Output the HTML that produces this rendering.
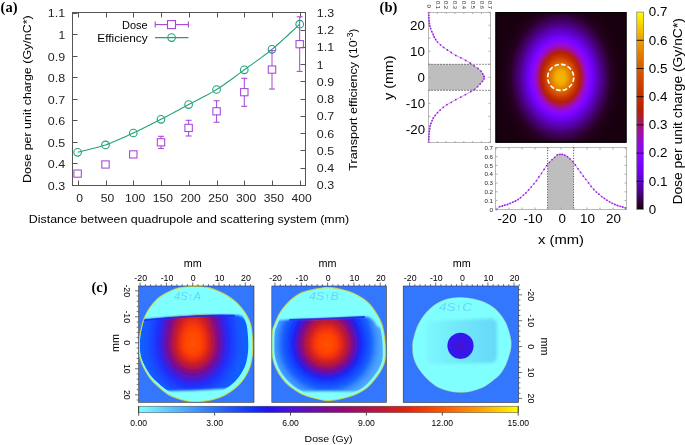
<!DOCTYPE html>
<html><head><meta charset="utf-8"><style>
html,body{margin:0;padding:0;background:#fff;width:685px;height:445px;overflow:hidden}
svg{display:block;will-change:transform}
</style></head><body>
<svg width="685" height="445" viewBox="0 0 685 445">
<text x="0.60" y="12.20" font-size="14.5" font-family="Liberation Serif" fill="#000" font-weight="bold" >(a)</text>
<rect x="72.5" y="12.5" width="233.0" height="173.0" fill="none" stroke="#555" stroke-width="1"/>
<line x1="78.50" y1="185.50" x2="78.50" y2="180.50" stroke="#555" stroke-width="1" />
<line x1="78.50" y1="12.50" x2="78.50" y2="17.50" stroke="#555" stroke-width="1" />
<text x="79.70" y="202.30" font-size="11" font-family="Liberation Sans" fill="#222" text-anchor="middle" textLength="6.74" lengthAdjust="spacingAndGlyphs" >0</text>
<line x1="106.50" y1="185.50" x2="106.50" y2="180.50" stroke="#555" stroke-width="1" />
<line x1="106.50" y1="12.50" x2="106.50" y2="17.50" stroke="#555" stroke-width="1" />
<text x="107.45" y="202.30" font-size="11" font-family="Liberation Sans" fill="#222" text-anchor="middle" textLength="13.48" lengthAdjust="spacingAndGlyphs" >50</text>
<line x1="133.50" y1="185.50" x2="133.50" y2="180.50" stroke="#555" stroke-width="1" />
<line x1="133.50" y1="12.50" x2="133.50" y2="17.50" stroke="#555" stroke-width="1" />
<text x="135.20" y="202.30" font-size="11" font-family="Liberation Sans" fill="#222" text-anchor="middle" textLength="20.22" lengthAdjust="spacingAndGlyphs" >100</text>
<line x1="161.50" y1="185.50" x2="161.50" y2="180.50" stroke="#555" stroke-width="1" />
<line x1="161.50" y1="12.50" x2="161.50" y2="17.50" stroke="#555" stroke-width="1" />
<text x="162.95" y="202.30" font-size="11" font-family="Liberation Sans" fill="#222" text-anchor="middle" textLength="20.22" lengthAdjust="spacingAndGlyphs" >150</text>
<line x1="189.50" y1="185.50" x2="189.50" y2="180.50" stroke="#555" stroke-width="1" />
<line x1="189.50" y1="12.50" x2="189.50" y2="17.50" stroke="#555" stroke-width="1" />
<text x="190.70" y="202.30" font-size="11" font-family="Liberation Sans" fill="#222" text-anchor="middle" textLength="20.22" lengthAdjust="spacingAndGlyphs" >200</text>
<line x1="217.50" y1="185.50" x2="217.50" y2="180.50" stroke="#555" stroke-width="1" />
<line x1="217.50" y1="12.50" x2="217.50" y2="17.50" stroke="#555" stroke-width="1" />
<text x="218.45" y="202.30" font-size="11" font-family="Liberation Sans" fill="#222" text-anchor="middle" textLength="20.22" lengthAdjust="spacingAndGlyphs" >250</text>
<line x1="244.50" y1="185.50" x2="244.50" y2="180.50" stroke="#555" stroke-width="1" />
<line x1="244.50" y1="12.50" x2="244.50" y2="17.50" stroke="#555" stroke-width="1" />
<text x="246.20" y="202.30" font-size="11" font-family="Liberation Sans" fill="#222" text-anchor="middle" textLength="20.22" lengthAdjust="spacingAndGlyphs" >300</text>
<line x1="272.50" y1="185.50" x2="272.50" y2="180.50" stroke="#555" stroke-width="1" />
<line x1="272.50" y1="12.50" x2="272.50" y2="17.50" stroke="#555" stroke-width="1" />
<text x="273.95" y="202.30" font-size="11" font-family="Liberation Sans" fill="#222" text-anchor="middle" textLength="20.22" lengthAdjust="spacingAndGlyphs" >350</text>
<line x1="300.50" y1="185.50" x2="300.50" y2="180.50" stroke="#555" stroke-width="1" />
<line x1="300.50" y1="12.50" x2="300.50" y2="17.50" stroke="#555" stroke-width="1" />
<text x="301.70" y="202.30" font-size="11" font-family="Liberation Sans" fill="#222" text-anchor="middle" textLength="20.22" lengthAdjust="spacingAndGlyphs" >400</text>
<line x1="72.50" y1="185.50" x2="77.50" y2="185.50" stroke="#555" stroke-width="1" />
<text x="65.20" y="189.90" font-size="11" font-family="Liberation Sans" fill="#222" text-anchor="end" textLength="17.34" lengthAdjust="spacingAndGlyphs" >0.3</text>
<line x1="72.50" y1="163.50" x2="77.50" y2="163.50" stroke="#555" stroke-width="1" />
<text x="65.20" y="168.34" font-size="11" font-family="Liberation Sans" fill="#222" text-anchor="end" textLength="17.34" lengthAdjust="spacingAndGlyphs" >0.4</text>
<line x1="72.50" y1="142.50" x2="77.50" y2="142.50" stroke="#555" stroke-width="1" />
<text x="65.20" y="146.78" font-size="11" font-family="Liberation Sans" fill="#222" text-anchor="end" textLength="17.34" lengthAdjust="spacingAndGlyphs" >0.5</text>
<line x1="72.50" y1="120.50" x2="77.50" y2="120.50" stroke="#555" stroke-width="1" />
<text x="65.20" y="125.22" font-size="11" font-family="Liberation Sans" fill="#222" text-anchor="end" textLength="17.34" lengthAdjust="spacingAndGlyphs" >0.6</text>
<line x1="72.50" y1="99.50" x2="77.50" y2="99.50" stroke="#555" stroke-width="1" />
<text x="65.20" y="103.66" font-size="11" font-family="Liberation Sans" fill="#222" text-anchor="end" textLength="17.34" lengthAdjust="spacingAndGlyphs" >0.7</text>
<line x1="72.50" y1="77.50" x2="77.50" y2="77.50" stroke="#555" stroke-width="1" />
<text x="65.20" y="82.10" font-size="11" font-family="Liberation Sans" fill="#222" text-anchor="end" textLength="17.34" lengthAdjust="spacingAndGlyphs" >0.8</text>
<line x1="72.50" y1="56.50" x2="77.50" y2="56.50" stroke="#555" stroke-width="1" />
<text x="65.20" y="60.54" font-size="11" font-family="Liberation Sans" fill="#222" text-anchor="end" textLength="17.34" lengthAdjust="spacingAndGlyphs" >0.9</text>
<line x1="72.50" y1="34.50" x2="77.50" y2="34.50" stroke="#555" stroke-width="1" />
<text x="65.20" y="38.98" font-size="11" font-family="Liberation Sans" fill="#222" text-anchor="end" textLength="6.74" lengthAdjust="spacingAndGlyphs" >1</text>
<line x1="72.50" y1="13.50" x2="77.50" y2="13.50" stroke="#555" stroke-width="1" />
<text x="65.20" y="17.42" font-size="11" font-family="Liberation Sans" fill="#222" text-anchor="end" textLength="17.34" lengthAdjust="spacingAndGlyphs" >1.1</text>
<line x1="305.50" y1="185.50" x2="300.50" y2="185.50" stroke="#555" stroke-width="1" />
<text x="316.80" y="189.40" font-size="11" font-family="Liberation Sans" fill="#222" textLength="17.34" lengthAdjust="spacingAndGlyphs" >0.3</text>
<line x1="305.50" y1="168.50" x2="300.50" y2="168.50" stroke="#555" stroke-width="1" />
<text x="316.80" y="172.15" font-size="11" font-family="Liberation Sans" fill="#222" textLength="17.34" lengthAdjust="spacingAndGlyphs" >0.4</text>
<line x1="305.50" y1="150.50" x2="300.50" y2="150.50" stroke="#555" stroke-width="1" />
<text x="316.80" y="154.90" font-size="11" font-family="Liberation Sans" fill="#222" textLength="17.34" lengthAdjust="spacingAndGlyphs" >0.5</text>
<line x1="305.50" y1="133.50" x2="300.50" y2="133.50" stroke="#555" stroke-width="1" />
<text x="316.80" y="137.65" font-size="11" font-family="Liberation Sans" fill="#222" textLength="17.34" lengthAdjust="spacingAndGlyphs" >0.6</text>
<line x1="305.50" y1="116.50" x2="300.50" y2="116.50" stroke="#555" stroke-width="1" />
<text x="316.80" y="120.40" font-size="11" font-family="Liberation Sans" fill="#222" textLength="17.34" lengthAdjust="spacingAndGlyphs" >0.7</text>
<line x1="305.50" y1="99.50" x2="300.50" y2="99.50" stroke="#555" stroke-width="1" />
<text x="316.80" y="103.15" font-size="11" font-family="Liberation Sans" fill="#222" textLength="17.34" lengthAdjust="spacingAndGlyphs" >0.8</text>
<line x1="305.50" y1="81.50" x2="300.50" y2="81.50" stroke="#555" stroke-width="1" />
<text x="316.80" y="85.90" font-size="11" font-family="Liberation Sans" fill="#222" textLength="17.34" lengthAdjust="spacingAndGlyphs" >0.9</text>
<line x1="305.50" y1="64.50" x2="300.50" y2="64.50" stroke="#555" stroke-width="1" />
<text x="316.80" y="68.65" font-size="11" font-family="Liberation Sans" fill="#222" textLength="6.74" lengthAdjust="spacingAndGlyphs" >1</text>
<line x1="305.50" y1="47.50" x2="300.50" y2="47.50" stroke="#555" stroke-width="1" />
<text x="316.80" y="51.40" font-size="11" font-family="Liberation Sans" fill="#222" textLength="17.34" lengthAdjust="spacingAndGlyphs" >1.1</text>
<line x1="305.50" y1="30.50" x2="300.50" y2="30.50" stroke="#555" stroke-width="1" />
<text x="316.80" y="34.15" font-size="11" font-family="Liberation Sans" fill="#222" textLength="17.34" lengthAdjust="spacingAndGlyphs" >1.2</text>
<line x1="305.50" y1="12.50" x2="300.50" y2="12.50" stroke="#555" stroke-width="1" />
<text x="316.80" y="16.90" font-size="11" font-family="Liberation Sans" fill="#222" textLength="17.34" lengthAdjust="spacingAndGlyphs" >1.3</text>
<text transform="translate(30.60,182.90) rotate(-90)" font-size="11" font-family="Liberation Sans" fill="#000" textLength="167.60" lengthAdjust="spacingAndGlyphs" >Dose per unit charge (Gy/nC*)</text>
<text transform="translate(357.4,170.7) rotate(-90)" font-size="11" font-family="Liberation Sans" fill="#000"><tspan textLength="130.5" lengthAdjust="spacingAndGlyphs">Transport efficiency (10</tspan><tspan dy="-4" font-size="8.6">-3</tspan><tspan dy="4">)</tspan></text>
<text x="28.80" y="222.60" font-size="11" font-family="Liberation Sans" fill="#000" textLength="320.30" lengthAdjust="spacingAndGlyphs" >Distance between quadrupole and scattering system (mm)</text>
<polyline fill="none" stroke="#22a07c" stroke-width="1.1" points="77.60,152.30 79.75,151.76 82.62,151.08 86.02,150.26 89.81,149.34 93.82,148.33 97.88,147.24 101.83,146.09 105.50,144.90 108.98,143.64 112.46,142.28 115.94,140.85 119.41,139.34 122.89,137.79 126.36,136.21 129.83,134.60 133.30,133.00 136.77,131.38 140.23,129.72 143.70,128.04 147.16,126.32 150.62,124.59 154.08,122.84 157.54,121.07 161.00,119.30 164.45,117.51 167.90,115.70 171.34,113.88 174.78,112.04 178.23,110.19 181.67,108.33 185.13,106.46 188.60,104.60 192.08,102.76 195.58,100.96 199.08,99.17 202.59,97.36 206.10,95.52 209.61,93.61 213.11,91.61 216.60,89.50 220.08,87.26 223.55,84.92 227.01,82.48 230.47,79.99 233.93,77.45 237.38,74.89 240.84,72.33 244.30,69.80 247.76,67.31 251.23,64.84 254.69,62.37 258.15,59.89 261.61,57.36 265.07,54.77 268.54,52.09 272.00,49.30 275.65,46.21 279.57,42.76 283.60,39.12 287.58,35.47 291.34,31.98 294.72,28.82 297.56,26.17 299.70,24.20"/>
<circle cx="77.6" cy="152.3" r="3.8" fill="none" stroke="#22a07c" stroke-width="1.1"/>
<circle cx="105.5" cy="144.9" r="3.8" fill="none" stroke="#22a07c" stroke-width="1.1"/>
<circle cx="133.3" cy="133.0" r="3.8" fill="none" stroke="#22a07c" stroke-width="1.1"/>
<circle cx="161.0" cy="119.3" r="3.8" fill="none" stroke="#22a07c" stroke-width="1.1"/>
<circle cx="188.6" cy="104.6" r="3.8" fill="none" stroke="#22a07c" stroke-width="1.1"/>
<circle cx="216.6" cy="89.5" r="3.8" fill="none" stroke="#22a07c" stroke-width="1.1"/>
<circle cx="244.3" cy="69.8" r="3.8" fill="none" stroke="#22a07c" stroke-width="1.1"/>
<circle cx="272.0" cy="49.3" r="3.8" fill="none" stroke="#22a07c" stroke-width="1.1"/>
<circle cx="299.7" cy="24.2" r="3.8" fill="none" stroke="#22a07c" stroke-width="1.1"/>
<rect x="73.90" y="170.00" width="7.4" height="7.2" fill="none" stroke="#a444dc" stroke-width="1.05"/>
<rect x="101.80" y="160.90" width="7.4" height="7.2" fill="none" stroke="#a444dc" stroke-width="1.05"/>
<rect x="129.60" y="150.80" width="7.4" height="7.2" fill="none" stroke="#a444dc" stroke-width="1.05"/>
<line x1="161.00" y1="136.30" x2="161.00" y2="138.70" stroke="#a444dc" stroke-width="1.0" />
<line x1="161.00" y1="145.70" x2="161.00" y2="148.40" stroke="#a444dc" stroke-width="1.0" />
<line x1="158.00" y1="136.30" x2="164.00" y2="136.30" stroke="#a444dc" stroke-width="1.05" />
<line x1="158.00" y1="148.40" x2="164.00" y2="148.40" stroke="#a444dc" stroke-width="1.05" />
<rect x="157.30" y="138.70" width="7.4" height="7.2" fill="none" stroke="#a444dc" stroke-width="1.05"/>
<line x1="188.60" y1="120.30" x2="188.60" y2="124.30" stroke="#a444dc" stroke-width="1.0" />
<line x1="188.60" y1="131.30" x2="188.60" y2="136.00" stroke="#a444dc" stroke-width="1.0" />
<line x1="185.60" y1="120.30" x2="191.60" y2="120.30" stroke="#a444dc" stroke-width="1.05" />
<line x1="185.60" y1="136.00" x2="191.60" y2="136.00" stroke="#a444dc" stroke-width="1.05" />
<rect x="184.90" y="124.30" width="7.4" height="7.2" fill="none" stroke="#a444dc" stroke-width="1.05"/>
<line x1="216.60" y1="100.80" x2="216.60" y2="107.70" stroke="#a444dc" stroke-width="1.0" />
<line x1="216.60" y1="114.70" x2="216.60" y2="122.20" stroke="#a444dc" stroke-width="1.0" />
<line x1="213.60" y1="100.80" x2="219.60" y2="100.80" stroke="#a444dc" stroke-width="1.05" />
<line x1="213.60" y1="122.20" x2="219.60" y2="122.20" stroke="#a444dc" stroke-width="1.05" />
<rect x="212.90" y="107.70" width="7.4" height="7.2" fill="none" stroke="#a444dc" stroke-width="1.05"/>
<line x1="244.30" y1="78.30" x2="244.30" y2="88.60" stroke="#a444dc" stroke-width="1.0" />
<line x1="244.30" y1="95.60" x2="244.30" y2="106.30" stroke="#a444dc" stroke-width="1.0" />
<line x1="241.30" y1="78.30" x2="247.30" y2="78.30" stroke="#a444dc" stroke-width="1.05" />
<line x1="241.30" y1="106.30" x2="247.30" y2="106.30" stroke="#a444dc" stroke-width="1.05" />
<rect x="240.60" y="88.60" width="7.4" height="7.2" fill="none" stroke="#a444dc" stroke-width="1.05"/>
<line x1="272.00" y1="50.60" x2="272.00" y2="66.00" stroke="#a444dc" stroke-width="1.0" />
<line x1="272.00" y1="73.00" x2="272.00" y2="89.00" stroke="#a444dc" stroke-width="1.0" />
<line x1="269.00" y1="50.60" x2="275.00" y2="50.60" stroke="#a444dc" stroke-width="1.05" />
<line x1="269.00" y1="89.00" x2="275.00" y2="89.00" stroke="#a444dc" stroke-width="1.05" />
<rect x="268.30" y="66.00" width="7.4" height="7.2" fill="none" stroke="#a444dc" stroke-width="1.05"/>
<line x1="299.70" y1="16.80" x2="299.70" y2="40.60" stroke="#a444dc" stroke-width="1.0" />
<line x1="299.70" y1="47.60" x2="299.70" y2="71.40" stroke="#a444dc" stroke-width="1.0" />
<line x1="296.70" y1="16.80" x2="302.70" y2="16.80" stroke="#a444dc" stroke-width="1.05" />
<line x1="296.70" y1="71.40" x2="302.70" y2="71.40" stroke="#a444dc" stroke-width="1.05" />
<rect x="296.00" y="40.60" width="7.4" height="7.2" fill="none" stroke="#a444dc" stroke-width="1.05"/>
<text x="147.70" y="29.00" font-size="11" font-family="Liberation Sans" fill="#000" text-anchor="end" textLength="25.61" lengthAdjust="spacingAndGlyphs" >Dose</text>
<text x="147.70" y="41.70" font-size="11" font-family="Liberation Sans" fill="#000" text-anchor="end" textLength="50.40" lengthAdjust="spacingAndGlyphs" >Efficiency</text>
<line x1="155.00" y1="24.60" x2="167.40" y2="24.60" stroke="#a444dc" stroke-width="1.1" />
<line x1="175.60" y1="24.60" x2="188.60" y2="24.60" stroke="#a444dc" stroke-width="1.1" />
<line x1="155.20" y1="21.60" x2="155.20" y2="27.60" stroke="#a444dc" stroke-width="1.1" />
<line x1="188.40" y1="21.60" x2="188.40" y2="27.60" stroke="#a444dc" stroke-width="1.1" />
<rect x="167.5" y="20.6" width="8" height="8" fill="none" stroke="#a444dc" stroke-width="1.1"/>
<line x1="155.00" y1="37.60" x2="188.40" y2="37.60" stroke="#22a07c" stroke-width="1.1" />
<circle cx="171.6" cy="37.6" r="3.8" fill="none" stroke="#22a07c" stroke-width="1.1"/>
<text x="379.60" y="11.60" font-size="14.5" font-family="Liberation Serif" fill="#000" font-weight="bold" >(b)</text>
<defs>
<radialGradient id="hm" gradientUnits="userSpaceOnUse" cx="560.7" cy="77.4" r="100.0" gradientTransform="translate(560.7,77.4) scale(1,1.28) translate(-560.7,-77.4)"><stop offset="0.0000" stop-color="#f1b600"/><stop offset="0.0050" stop-color="#f1b600"/><stop offset="0.0100" stop-color="#f1b500"/><stop offset="0.0150" stop-color="#f1b500"/><stop offset="0.0200" stop-color="#f1b400"/><stop offset="0.0250" stop-color="#f1b400"/><stop offset="0.0300" stop-color="#f0b300"/><stop offset="0.0350" stop-color="#f0b200"/><stop offset="0.0400" stop-color="#f0b000"/><stop offset="0.0450" stop-color="#efad00"/><stop offset="0.0500" stop-color="#efab00"/><stop offset="0.0550" stop-color="#eea800"/><stop offset="0.0600" stop-color="#eca200"/><stop offset="0.0650" stop-color="#eb9c00"/><stop offset="0.0700" stop-color="#e99600"/><stop offset="0.0750" stop-color="#e89000"/><stop offset="0.0800" stop-color="#e78c00"/><stop offset="0.0850" stop-color="#e58700"/><stop offset="0.0900" stop-color="#e48300"/><stop offset="0.0950" stop-color="#e37f00"/><stop offset="0.1000" stop-color="#e27b00"/><stop offset="0.1050" stop-color="#e07400"/><stop offset="0.1100" stop-color="#de6e00"/><stop offset="0.1150" stop-color="#db6700"/><stop offset="0.1200" stop-color="#d96200"/><stop offset="0.1250" stop-color="#d75c00"/><stop offset="0.1300" stop-color="#d55700"/><stop offset="0.1350" stop-color="#d35200"/><stop offset="0.1400" stop-color="#d14d00"/><stop offset="0.1450" stop-color="#cf4800"/><stop offset="0.1500" stop-color="#cc4200"/><stop offset="0.1550" stop-color="#c93d00"/><stop offset="0.1600" stop-color="#c63800"/><stop offset="0.1650" stop-color="#c33400"/><stop offset="0.1700" stop-color="#c13000"/><stop offset="0.1750" stop-color="#bf2d00"/><stop offset="0.1800" stop-color="#bd2a00"/><stop offset="0.1850" stop-color="#ba2700"/><stop offset="0.1900" stop-color="#b82400"/><stop offset="0.1950" stop-color="#b52100"/><stop offset="0.2000" stop-color="#b21e11"/><stop offset="0.2050" stop-color="#af1b2d"/><stop offset="0.2100" stop-color="#ad1941"/><stop offset="0.2150" stop-color="#aa1754"/><stop offset="0.2200" stop-color="#a81566"/><stop offset="0.2250" stop-color="#a61378"/><stop offset="0.2300" stop-color="#a3118a"/><stop offset="0.2350" stop-color="#a0109b"/><stop offset="0.2400" stop-color="#9e0eab"/><stop offset="0.2450" stop-color="#9b0dba"/><stop offset="0.2500" stop-color="#990cc6"/><stop offset="0.2550" stop-color="#960bd1"/><stop offset="0.2600" stop-color="#940adb"/><stop offset="0.2650" stop-color="#9109e3"/><stop offset="0.2700" stop-color="#8e08ec"/><stop offset="0.2750" stop-color="#8b07f4"/><stop offset="0.2800" stop-color="#8706fa"/><stop offset="0.2850" stop-color="#8405fd"/><stop offset="0.2900" stop-color="#8204ff"/><stop offset="0.2950" stop-color="#7f04ff"/><stop offset="0.3000" stop-color="#7d04fe"/><stop offset="0.3050" stop-color="#7a03fd"/><stop offset="0.3100" stop-color="#7803fa"/><stop offset="0.3150" stop-color="#7502f7"/><stop offset="0.3200" stop-color="#7202f2"/><stop offset="0.3250" stop-color="#6f02ed"/><stop offset="0.3300" stop-color="#6d02e9"/><stop offset="0.3350" stop-color="#6b01e5"/><stop offset="0.3400" stop-color="#6901e0"/><stop offset="0.3450" stop-color="#6701db"/><stop offset="0.3500" stop-color="#6501d4"/><stop offset="0.3550" stop-color="#6201cd"/><stop offset="0.3600" stop-color="#6001c5"/><stop offset="0.3650" stop-color="#5e01c0"/><stop offset="0.3700" stop-color="#5d01bc"/><stop offset="0.3750" stop-color="#5b01b8"/><stop offset="0.3800" stop-color="#5a00b3"/><stop offset="0.3850" stop-color="#5800ae"/><stop offset="0.3900" stop-color="#5600a6"/><stop offset="0.3950" stop-color="#53009f"/><stop offset="0.4000" stop-color="#510097"/><stop offset="0.4050" stop-color="#4f0090"/><stop offset="0.4100" stop-color="#4d008a"/><stop offset="0.4150" stop-color="#4b0083"/><stop offset="0.4200" stop-color="#49007c"/><stop offset="0.4250" stop-color="#470077"/><stop offset="0.4300" stop-color="#450072"/><stop offset="0.4350" stop-color="#44006d"/><stop offset="0.4400" stop-color="#420068"/><stop offset="0.4450" stop-color="#400062"/><stop offset="0.4500" stop-color="#3e005d"/><stop offset="0.4550" stop-color="#3c0057"/><stop offset="0.4600" stop-color="#3a0051"/><stop offset="0.4650" stop-color="#38004d"/><stop offset="0.4700" stop-color="#370049"/><stop offset="0.4750" stop-color="#360046"/><stop offset="0.4800" stop-color="#340042"/><stop offset="0.4850" stop-color="#31003c"/><stop offset="0.4900" stop-color="#2f0036"/><stop offset="0.4950" stop-color="#2c0030"/><stop offset="0.5000" stop-color="#290029"/><stop offset="0.5050" stop-color="#280028"/><stop offset="0.5100" stop-color="#270026"/><stop offset="0.5150" stop-color="#260024"/><stop offset="0.5200" stop-color="#260023"/><stop offset="0.5250" stop-color="#250021"/><stop offset="0.5300" stop-color="#24001f"/><stop offset="0.5350" stop-color="#23001e"/><stop offset="0.5400" stop-color="#22001c"/><stop offset="0.5450" stop-color="#21001b"/><stop offset="0.5500" stop-color="#200019"/><stop offset="0.5550" stop-color="#1f0017"/><stop offset="0.5600" stop-color="#1e0016"/><stop offset="0.5650" stop-color="#1e0016"/><stop offset="0.5700" stop-color="#1d0015"/><stop offset="0.5750" stop-color="#1d0015"/><stop offset="0.5800" stop-color="#1d0014"/><stop offset="0.5850" stop-color="#1c0014"/><stop offset="0.5900" stop-color="#1c0013"/><stop offset="0.5950" stop-color="#1b0012"/><stop offset="0.6000" stop-color="#1b0012"/><stop offset="0.6050" stop-color="#1a0011"/><stop offset="0.6100" stop-color="#1a0011"/><stop offset="0.6150" stop-color="#1a0010"/><stop offset="0.6200" stop-color="#190010"/><stop offset="0.6250" stop-color="#190010"/><stop offset="0.6300" stop-color="#190010"/><stop offset="0.6350" stop-color="#190010"/><stop offset="0.6400" stop-color="#190010"/><stop offset="0.6450" stop-color="#190010"/><stop offset="0.6500" stop-color="#19000f"/><stop offset="0.6550" stop-color="#19000f"/><stop offset="0.6600" stop-color="#19000f"/><stop offset="0.6650" stop-color="#19000f"/><stop offset="0.6700" stop-color="#19000f"/><stop offset="0.6750" stop-color="#19000f"/><stop offset="0.6800" stop-color="#19000f"/><stop offset="0.6850" stop-color="#19000f"/><stop offset="0.6900" stop-color="#19000f"/><stop offset="0.6950" stop-color="#19000f"/><stop offset="0.7000" stop-color="#18000f"/><stop offset="0.7050" stop-color="#18000f"/><stop offset="0.7100" stop-color="#18000f"/><stop offset="0.7150" stop-color="#18000e"/><stop offset="0.7200" stop-color="#18000e"/><stop offset="0.7250" stop-color="#18000e"/><stop offset="0.7300" stop-color="#18000e"/><stop offset="0.7350" stop-color="#18000e"/><stop offset="0.7400" stop-color="#18000e"/><stop offset="0.7450" stop-color="#18000e"/><stop offset="0.7500" stop-color="#18000e"/><stop offset="0.7550" stop-color="#18000e"/><stop offset="0.7600" stop-color="#18000e"/><stop offset="0.7650" stop-color="#18000e"/><stop offset="0.7700" stop-color="#18000e"/><stop offset="0.7750" stop-color="#18000e"/><stop offset="0.7800" stop-color="#18000e"/><stop offset="0.7850" stop-color="#18000e"/><stop offset="0.7900" stop-color="#18000e"/><stop offset="0.7950" stop-color="#18000e"/><stop offset="0.8000" stop-color="#18000e"/><stop offset="0.8050" stop-color="#18000e"/><stop offset="0.8100" stop-color="#18000e"/><stop offset="0.8150" stop-color="#18000e"/><stop offset="0.8200" stop-color="#18000e"/><stop offset="0.8250" stop-color="#18000e"/><stop offset="0.8300" stop-color="#18000e"/><stop offset="0.8350" stop-color="#18000e"/><stop offset="0.8400" stop-color="#18000e"/><stop offset="0.8450" stop-color="#18000e"/><stop offset="0.8500" stop-color="#18000e"/><stop offset="0.8550" stop-color="#18000e"/><stop offset="0.8600" stop-color="#18000e"/><stop offset="0.8650" stop-color="#18000e"/><stop offset="0.8700" stop-color="#18000e"/><stop offset="0.8750" stop-color="#18000e"/><stop offset="0.8800" stop-color="#18000e"/><stop offset="0.8850" stop-color="#18000e"/><stop offset="0.8900" stop-color="#18000e"/><stop offset="0.8950" stop-color="#18000e"/><stop offset="0.9000" stop-color="#18000e"/><stop offset="0.9050" stop-color="#18000e"/><stop offset="0.9100" stop-color="#18000e"/><stop offset="0.9150" stop-color="#18000e"/><stop offset="0.9200" stop-color="#18000e"/><stop offset="0.9250" stop-color="#18000e"/><stop offset="0.9300" stop-color="#18000e"/><stop offset="0.9350" stop-color="#18000e"/><stop offset="0.9400" stop-color="#18000e"/><stop offset="0.9450" stop-color="#18000e"/><stop offset="0.9500" stop-color="#18000e"/><stop offset="0.9550" stop-color="#18000e"/><stop offset="0.9600" stop-color="#18000e"/><stop offset="0.9650" stop-color="#18000e"/><stop offset="0.9700" stop-color="#18000e"/><stop offset="0.9750" stop-color="#18000e"/><stop offset="0.9800" stop-color="#18000e"/><stop offset="0.9850" stop-color="#18000e"/><stop offset="0.9900" stop-color="#18000e"/><stop offset="0.9950" stop-color="#18000e"/><stop offset="1.0000" stop-color="#18000e"/></radialGradient>
</defs>
<rect x="495.5" y="12" width="131.0" height="130.7" fill="url(#hm)"/>
<rect x="496.0" y="12.6" width="130.0" height="129.6" fill="none" stroke="#000" stroke-width="1.2"/>
<circle cx="560.7" cy="77.4" r="13" fill="none" stroke="#fff" stroke-width="1.6" stroke-dasharray="4.6 2.2"/>
<rect x="428.5" y="12.5" width="62.0" height="130.0" fill="none" stroke="#b8b8b8" stroke-width="1"/>
<polygon fill="#bebebe" points="428.50,64.30 471.91,64.30 474.10,65.80 478.00,68.40 481.00,71.10 482.80,73.90 484.10,76.50 484.10,78.80 482.50,81.30 480.20,83.90 477.60,86.70 474.60,89.40 473.05,90.30 428.50,90.30"/>
<line x1="428.50" y1="64.30" x2="490.50" y2="64.30" stroke="#222" stroke-width="1" stroke-dasharray="1 2"/>
<line x1="428.50" y1="90.30" x2="490.50" y2="90.30" stroke="#222" stroke-width="1" stroke-dasharray="1 2"/>
<polyline fill="none" stroke="#b060e0" stroke-width="0.6" points="428.60,12.80 428.80,15.30 428.90,17.90 429.10,20.70 429.40,23.40 429.80,26.00 430.60,28.60 431.80,31.70 433.20,34.50 434.20,37.00 435.60,39.50 437.50,42.10 440.50,44.80 443.60,47.40 447.40,50.00 451.20,52.50 455.80,55.40 460.80,57.80 465.70,60.40 470.30,63.20 474.10,65.80 478.00,68.40 481.00,71.10 482.80,73.90 484.10,76.50 484.10,78.80 482.50,81.30 480.20,83.90 477.60,86.70 474.60,89.40 470.80,91.60 465.40,94.60 460.80,97.10 455.80,99.70 451.20,102.30 446.90,104.70 443.30,107.30 440.10,110.20 437.50,112.70 435.20,115.40 433.30,118.00 432.10,120.60 431.00,123.40 430.10,126.00 429.70,128.70 429.40,131.30 429.10,134.10 428.90,136.70 428.80,139.40 428.60,142.00"/>
<circle cx="428.6" cy="12.8" r="0.9" fill="#9a20e0"/>
<circle cx="428.8" cy="15.3" r="0.9" fill="#9a20e0"/>
<circle cx="428.9" cy="17.9" r="0.9" fill="#9a20e0"/>
<circle cx="429.1" cy="20.7" r="0.9" fill="#9a20e0"/>
<circle cx="429.4" cy="23.4" r="0.9" fill="#9a20e0"/>
<circle cx="429.8" cy="26" r="0.9" fill="#9a20e0"/>
<circle cx="430.6" cy="28.6" r="0.9" fill="#9a20e0"/>
<circle cx="431.8" cy="31.7" r="0.9" fill="#9a20e0"/>
<circle cx="433.2" cy="34.5" r="0.9" fill="#9a20e0"/>
<circle cx="434.2" cy="37.0" r="0.9" fill="#9a20e0"/>
<circle cx="435.6" cy="39.5" r="0.9" fill="#9a20e0"/>
<circle cx="437.5" cy="42.1" r="0.9" fill="#9a20e0"/>
<circle cx="440.5" cy="44.8" r="0.9" fill="#9a20e0"/>
<circle cx="443.6" cy="47.4" r="0.9" fill="#9a20e0"/>
<circle cx="447.4" cy="50" r="0.9" fill="#9a20e0"/>
<circle cx="451.2" cy="52.5" r="0.9" fill="#9a20e0"/>
<circle cx="455.8" cy="55.4" r="0.9" fill="#9a20e0"/>
<circle cx="460.8" cy="57.8" r="0.9" fill="#9a20e0"/>
<circle cx="465.7" cy="60.4" r="0.9" fill="#9a20e0"/>
<circle cx="470.3" cy="63.2" r="0.9" fill="#9a20e0"/>
<circle cx="474.1" cy="65.8" r="0.9" fill="#9a20e0"/>
<circle cx="478" cy="68.4" r="0.9" fill="#9a20e0"/>
<circle cx="481" cy="71.1" r="0.9" fill="#9a20e0"/>
<circle cx="482.8" cy="73.9" r="0.9" fill="#9a20e0"/>
<circle cx="484.1" cy="76.5" r="0.9" fill="#9a20e0"/>
<circle cx="484.1" cy="78.8" r="0.9" fill="#9a20e0"/>
<circle cx="482.5" cy="81.3" r="0.9" fill="#9a20e0"/>
<circle cx="480.2" cy="83.9" r="0.9" fill="#9a20e0"/>
<circle cx="477.6" cy="86.7" r="0.9" fill="#9a20e0"/>
<circle cx="474.6" cy="89.4" r="0.9" fill="#9a20e0"/>
<circle cx="470.8" cy="91.6" r="0.9" fill="#9a20e0"/>
<circle cx="465.4" cy="94.6" r="0.9" fill="#9a20e0"/>
<circle cx="460.8" cy="97.1" r="0.9" fill="#9a20e0"/>
<circle cx="455.8" cy="99.7" r="0.9" fill="#9a20e0"/>
<circle cx="451.2" cy="102.3" r="0.9" fill="#9a20e0"/>
<circle cx="446.9" cy="104.7" r="0.9" fill="#9a20e0"/>
<circle cx="443.3" cy="107.3" r="0.9" fill="#9a20e0"/>
<circle cx="440.1" cy="110.2" r="0.9" fill="#9a20e0"/>
<circle cx="437.5" cy="112.7" r="0.9" fill="#9a20e0"/>
<circle cx="435.2" cy="115.4" r="0.9" fill="#9a20e0"/>
<circle cx="433.3" cy="118" r="0.9" fill="#9a20e0"/>
<circle cx="432.1" cy="120.6" r="0.9" fill="#9a20e0"/>
<circle cx="431" cy="123.4" r="0.9" fill="#9a20e0"/>
<circle cx="430.1" cy="126" r="0.9" fill="#9a20e0"/>
<circle cx="429.7" cy="128.7" r="0.9" fill="#9a20e0"/>
<circle cx="429.4" cy="131.3" r="0.9" fill="#9a20e0"/>
<circle cx="429.1" cy="134.1" r="0.9" fill="#9a20e0"/>
<circle cx="428.9" cy="136.7" r="0.9" fill="#9a20e0"/>
<circle cx="428.8" cy="139.4" r="0.9" fill="#9a20e0"/>
<circle cx="428.6" cy="142" r="0.9" fill="#9a20e0"/>
<line x1="428.60" y1="12.50" x2="428.60" y2="14.00" stroke="#999" stroke-width="0.8" />
<line x1="428.60" y1="142.50" x2="428.60" y2="141.00" stroke="#999" stroke-width="0.8" />
<text transform="translate(426.70,4.50) rotate(90)" font-size="6" font-family="Liberation Sans" fill="#222" textLength="3.40" lengthAdjust="spacingAndGlyphs" >0</text>
<line x1="437.41" y1="12.50" x2="437.41" y2="14.00" stroke="#999" stroke-width="0.8" />
<line x1="437.41" y1="142.50" x2="437.41" y2="141.00" stroke="#999" stroke-width="0.8" />
<text transform="translate(435.51,1.00) rotate(90)" font-size="6" font-family="Liberation Sans" fill="#222" textLength="8.00" lengthAdjust="spacingAndGlyphs" >0.1</text>
<line x1="446.22" y1="12.50" x2="446.22" y2="14.00" stroke="#999" stroke-width="0.8" />
<line x1="446.22" y1="142.50" x2="446.22" y2="141.00" stroke="#999" stroke-width="0.8" />
<text transform="translate(444.32,1.00) rotate(90)" font-size="6" font-family="Liberation Sans" fill="#222" textLength="8.00" lengthAdjust="spacingAndGlyphs" >0.2</text>
<line x1="455.03" y1="12.50" x2="455.03" y2="14.00" stroke="#999" stroke-width="0.8" />
<line x1="455.03" y1="142.50" x2="455.03" y2="141.00" stroke="#999" stroke-width="0.8" />
<text transform="translate(453.13,1.00) rotate(90)" font-size="6" font-family="Liberation Sans" fill="#222" textLength="8.00" lengthAdjust="spacingAndGlyphs" >0.3</text>
<line x1="463.84" y1="12.50" x2="463.84" y2="14.00" stroke="#999" stroke-width="0.8" />
<line x1="463.84" y1="142.50" x2="463.84" y2="141.00" stroke="#999" stroke-width="0.8" />
<text transform="translate(461.94,1.00) rotate(90)" font-size="6" font-family="Liberation Sans" fill="#222" textLength="8.00" lengthAdjust="spacingAndGlyphs" >0.4</text>
<line x1="472.65" y1="12.50" x2="472.65" y2="14.00" stroke="#999" stroke-width="0.8" />
<line x1="472.65" y1="142.50" x2="472.65" y2="141.00" stroke="#999" stroke-width="0.8" />
<text transform="translate(470.75,1.00) rotate(90)" font-size="6" font-family="Liberation Sans" fill="#222" textLength="8.00" lengthAdjust="spacingAndGlyphs" >0.5</text>
<line x1="481.46" y1="12.50" x2="481.46" y2="14.00" stroke="#999" stroke-width="0.8" />
<line x1="481.46" y1="142.50" x2="481.46" y2="141.00" stroke="#999" stroke-width="0.8" />
<text transform="translate(479.56,1.00) rotate(90)" font-size="6" font-family="Liberation Sans" fill="#222" textLength="8.00" lengthAdjust="spacingAndGlyphs" >0.6</text>
<line x1="490.27" y1="12.50" x2="490.27" y2="14.00" stroke="#999" stroke-width="0.8" />
<line x1="490.27" y1="142.50" x2="490.27" y2="141.00" stroke="#999" stroke-width="0.8" />
<text transform="translate(488.37,1.00) rotate(90)" font-size="6" font-family="Liberation Sans" fill="#222" textLength="8.00" lengthAdjust="spacingAndGlyphs" >0.7</text>
<line x1="428.50" y1="142.40" x2="430.50" y2="142.40" stroke="#999" stroke-width="0.8" />
<line x1="490.50" y1="142.40" x2="488.50" y2="142.40" stroke="#999" stroke-width="0.8" />
<line x1="428.50" y1="129.38" x2="430.50" y2="129.38" stroke="#999" stroke-width="0.8" />
<line x1="490.50" y1="129.38" x2="488.50" y2="129.38" stroke="#999" stroke-width="0.8" />
<line x1="428.50" y1="116.36" x2="430.50" y2="116.36" stroke="#999" stroke-width="0.8" />
<line x1="490.50" y1="116.36" x2="488.50" y2="116.36" stroke="#999" stroke-width="0.8" />
<line x1="428.50" y1="103.34" x2="430.50" y2="103.34" stroke="#999" stroke-width="0.8" />
<line x1="490.50" y1="103.34" x2="488.50" y2="103.34" stroke="#999" stroke-width="0.8" />
<line x1="428.50" y1="90.32" x2="430.50" y2="90.32" stroke="#999" stroke-width="0.8" />
<line x1="490.50" y1="90.32" x2="488.50" y2="90.32" stroke="#999" stroke-width="0.8" />
<line x1="428.50" y1="77.30" x2="430.50" y2="77.30" stroke="#999" stroke-width="0.8" />
<line x1="490.50" y1="77.30" x2="488.50" y2="77.30" stroke="#999" stroke-width="0.8" />
<line x1="428.50" y1="64.28" x2="430.50" y2="64.28" stroke="#999" stroke-width="0.8" />
<line x1="490.50" y1="64.28" x2="488.50" y2="64.28" stroke="#999" stroke-width="0.8" />
<line x1="428.50" y1="51.26" x2="430.50" y2="51.26" stroke="#999" stroke-width="0.8" />
<line x1="490.50" y1="51.26" x2="488.50" y2="51.26" stroke="#999" stroke-width="0.8" />
<line x1="428.50" y1="38.24" x2="430.50" y2="38.24" stroke="#999" stroke-width="0.8" />
<line x1="490.50" y1="38.24" x2="488.50" y2="38.24" stroke="#999" stroke-width="0.8" />
<line x1="428.50" y1="25.22" x2="430.50" y2="25.22" stroke="#999" stroke-width="0.8" />
<line x1="490.50" y1="25.22" x2="488.50" y2="25.22" stroke="#999" stroke-width="0.8" />
<line x1="428.50" y1="12.20" x2="430.50" y2="12.20" stroke="#999" stroke-width="0.8" />
<line x1="490.50" y1="12.20" x2="488.50" y2="12.20" stroke="#999" stroke-width="0.8" />
<text x="425.00" y="29.52" font-size="12" font-family="Liberation Sans" fill="#000" text-anchor="end" textLength="14.88" lengthAdjust="spacingAndGlyphs" >20</text>
<text x="425.00" y="55.56" font-size="12" font-family="Liberation Sans" fill="#000" text-anchor="end" textLength="14.88" lengthAdjust="spacingAndGlyphs" >10</text>
<text x="425.00" y="81.60" font-size="12" font-family="Liberation Sans" fill="#000" text-anchor="end" textLength="7.44" lengthAdjust="spacingAndGlyphs" >0</text>
<text x="425.00" y="107.64" font-size="12" font-family="Liberation Sans" fill="#000" text-anchor="end" textLength="19.11" lengthAdjust="spacingAndGlyphs" >-10</text>
<text x="425.00" y="133.68" font-size="12" font-family="Liberation Sans" fill="#000" text-anchor="end" textLength="19.11" lengthAdjust="spacingAndGlyphs" >-20</text>
<text transform="translate(393.40,100.00) rotate(-90)" font-size="12" font-family="Liberation Sans" fill="#000" textLength="44.50" lengthAdjust="spacingAndGlyphs" >y (mm)</text>
<rect x="495.5" y="147.5" width="131.0" height="62.0" fill="none" stroke="#b8b8b8" stroke-width="1"/>
<polygon fill="#bebebe" points="547.60,209.50 547.60,164.50 549.40,162.30 552.00,159.60 554.70,157.30 557.20,154.80 559.90,154.30 562.20,154.30 564.80,155.20 567.50,156.70 570.00,158.80 572.80,161.60 573.60,162.69 573.60,209.50"/>
<line x1="547.60" y1="147.50" x2="547.60" y2="209.50" stroke="#444" stroke-width="1" stroke-dasharray="1 1.6"/>
<line x1="573.60" y1="147.50" x2="573.60" y2="209.50" stroke="#444" stroke-width="1" stroke-dasharray="1 1.6"/>
<polyline fill="none" stroke="#b060e0" stroke-width="0.6" points="496.70,209.40 499.60,206.70 502.30,206.00 504.80,205.20 507.50,204.50 510.10,203.40 512.80,202.20 515.40,201.00 518.10,199.50 520.60,197.70 523.40,195.10 525.90,192.90 528.60,189.90 531.20,187.10 533.90,183.80 536.50,180.70 538.90,176.90 541.60,173.30 544.10,169.40 546.70,165.60 549.40,162.30 552.00,159.60 554.70,157.30 557.20,154.80 559.90,154.30 562.20,154.30 564.80,155.20 567.50,156.70 570.00,158.80 572.80,161.60 575.30,165.00 578.00,168.80 580.60,172.40 583.30,176.20 585.80,179.30 588.60,182.90 591.10,186.40 593.80,189.40 596.40,192.10 599.10,194.20 601.70,196.60 604.40,198.40 606.90,200.20 609.60,201.80 612.20,203.30 614.90,204.50 617.50,205.50 620.20,206.30 622.70,207.00 625.40,207.90"/>
<circle cx="496.7" cy="209.4" r="0.9" fill="#9a20e0"/>
<circle cx="499.6" cy="206.7" r="0.9" fill="#9a20e0"/>
<circle cx="502.3" cy="206" r="0.9" fill="#9a20e0"/>
<circle cx="504.8" cy="205.2" r="0.9" fill="#9a20e0"/>
<circle cx="507.5" cy="204.5" r="0.9" fill="#9a20e0"/>
<circle cx="510.1" cy="203.4" r="0.9" fill="#9a20e0"/>
<circle cx="512.8" cy="202.2" r="0.9" fill="#9a20e0"/>
<circle cx="515.4" cy="201" r="0.9" fill="#9a20e0"/>
<circle cx="518.1" cy="199.5" r="0.9" fill="#9a20e0"/>
<circle cx="520.6" cy="197.7" r="0.9" fill="#9a20e0"/>
<circle cx="523.4" cy="195.1" r="0.9" fill="#9a20e0"/>
<circle cx="525.9" cy="192.9" r="0.9" fill="#9a20e0"/>
<circle cx="528.6" cy="189.9" r="0.9" fill="#9a20e0"/>
<circle cx="531.2" cy="187.1" r="0.9" fill="#9a20e0"/>
<circle cx="533.9" cy="183.8" r="0.9" fill="#9a20e0"/>
<circle cx="536.5" cy="180.7" r="0.9" fill="#9a20e0"/>
<circle cx="538.9" cy="176.9" r="0.9" fill="#9a20e0"/>
<circle cx="541.6" cy="173.3" r="0.9" fill="#9a20e0"/>
<circle cx="544.1" cy="169.4" r="0.9" fill="#9a20e0"/>
<circle cx="546.7" cy="165.6" r="0.9" fill="#9a20e0"/>
<circle cx="549.4" cy="162.3" r="0.9" fill="#9a20e0"/>
<circle cx="552" cy="159.6" r="0.9" fill="#9a20e0"/>
<circle cx="554.7" cy="157.3" r="0.9" fill="#9a20e0"/>
<circle cx="557.2" cy="154.8" r="0.9" fill="#9a20e0"/>
<circle cx="559.9" cy="154.3" r="0.9" fill="#9a20e0"/>
<circle cx="562.2" cy="154.3" r="0.9" fill="#9a20e0"/>
<circle cx="564.8" cy="155.2" r="0.9" fill="#9a20e0"/>
<circle cx="567.5" cy="156.7" r="0.9" fill="#9a20e0"/>
<circle cx="570" cy="158.8" r="0.9" fill="#9a20e0"/>
<circle cx="572.8" cy="161.6" r="0.9" fill="#9a20e0"/>
<circle cx="575.3" cy="165" r="0.9" fill="#9a20e0"/>
<circle cx="578" cy="168.8" r="0.9" fill="#9a20e0"/>
<circle cx="580.6" cy="172.4" r="0.9" fill="#9a20e0"/>
<circle cx="583.3" cy="176.2" r="0.9" fill="#9a20e0"/>
<circle cx="585.8" cy="179.3" r="0.9" fill="#9a20e0"/>
<circle cx="588.6" cy="182.9" r="0.9" fill="#9a20e0"/>
<circle cx="591.1" cy="186.4" r="0.9" fill="#9a20e0"/>
<circle cx="593.8" cy="189.4" r="0.9" fill="#9a20e0"/>
<circle cx="596.4" cy="192.1" r="0.9" fill="#9a20e0"/>
<circle cx="599.1" cy="194.2" r="0.9" fill="#9a20e0"/>
<circle cx="601.7" cy="196.6" r="0.9" fill="#9a20e0"/>
<circle cx="604.4" cy="198.4" r="0.9" fill="#9a20e0"/>
<circle cx="606.9" cy="200.2" r="0.9" fill="#9a20e0"/>
<circle cx="609.6" cy="201.8" r="0.9" fill="#9a20e0"/>
<circle cx="612.2" cy="203.3" r="0.9" fill="#9a20e0"/>
<circle cx="614.9" cy="204.5" r="0.9" fill="#9a20e0"/>
<circle cx="617.5" cy="205.5" r="0.9" fill="#9a20e0"/>
<circle cx="620.2" cy="206.3" r="0.9" fill="#9a20e0"/>
<circle cx="622.7" cy="207" r="0.9" fill="#9a20e0"/>
<circle cx="625.4" cy="207.9" r="0.9" fill="#9a20e0"/>
<line x1="496.00" y1="209.50" x2="496.00" y2="207.50" stroke="#999" stroke-width="0.8" />
<line x1="496.00" y1="147.50" x2="496.00" y2="149.50" stroke="#999" stroke-width="0.8" />
<line x1="509.00" y1="209.50" x2="509.00" y2="207.50" stroke="#999" stroke-width="0.8" />
<line x1="509.00" y1="147.50" x2="509.00" y2="149.50" stroke="#999" stroke-width="0.8" />
<line x1="522.00" y1="209.50" x2="522.00" y2="207.50" stroke="#999" stroke-width="0.8" />
<line x1="522.00" y1="147.50" x2="522.00" y2="149.50" stroke="#999" stroke-width="0.8" />
<line x1="535.00" y1="209.50" x2="535.00" y2="207.50" stroke="#999" stroke-width="0.8" />
<line x1="535.00" y1="147.50" x2="535.00" y2="149.50" stroke="#999" stroke-width="0.8" />
<line x1="548.00" y1="209.50" x2="548.00" y2="207.50" stroke="#999" stroke-width="0.8" />
<line x1="548.00" y1="147.50" x2="548.00" y2="149.50" stroke="#999" stroke-width="0.8" />
<line x1="561.00" y1="209.50" x2="561.00" y2="207.50" stroke="#999" stroke-width="0.8" />
<line x1="561.00" y1="147.50" x2="561.00" y2="149.50" stroke="#999" stroke-width="0.8" />
<line x1="574.00" y1="209.50" x2="574.00" y2="207.50" stroke="#999" stroke-width="0.8" />
<line x1="574.00" y1="147.50" x2="574.00" y2="149.50" stroke="#999" stroke-width="0.8" />
<line x1="587.00" y1="209.50" x2="587.00" y2="207.50" stroke="#999" stroke-width="0.8" />
<line x1="587.00" y1="147.50" x2="587.00" y2="149.50" stroke="#999" stroke-width="0.8" />
<line x1="600.00" y1="209.50" x2="600.00" y2="207.50" stroke="#999" stroke-width="0.8" />
<line x1="600.00" y1="147.50" x2="600.00" y2="149.50" stroke="#999" stroke-width="0.8" />
<line x1="613.00" y1="209.50" x2="613.00" y2="207.50" stroke="#999" stroke-width="0.8" />
<line x1="613.00" y1="147.50" x2="613.00" y2="149.50" stroke="#999" stroke-width="0.8" />
<line x1="626.00" y1="209.50" x2="626.00" y2="207.50" stroke="#999" stroke-width="0.8" />
<line x1="626.00" y1="147.50" x2="626.00" y2="149.50" stroke="#999" stroke-width="0.8" />
<line x1="495.50" y1="209.40" x2="497.50" y2="209.40" stroke="#999" stroke-width="0.8" />
<line x1="626.50" y1="209.40" x2="624.50" y2="209.40" stroke="#999" stroke-width="0.8" />
<text x="493.00" y="211.60" font-size="6.2" font-family="Liberation Sans" fill="#222" text-anchor="end" textLength="3.60" lengthAdjust="spacingAndGlyphs" >0</text>
<line x1="495.50" y1="200.60" x2="497.50" y2="200.60" stroke="#999" stroke-width="0.8" />
<line x1="626.50" y1="200.60" x2="624.50" y2="200.60" stroke="#999" stroke-width="0.8" />
<text x="493.00" y="202.80" font-size="6.2" font-family="Liberation Sans" fill="#222" text-anchor="end" textLength="8.60" lengthAdjust="spacingAndGlyphs" >0.1</text>
<line x1="495.50" y1="191.80" x2="497.50" y2="191.80" stroke="#999" stroke-width="0.8" />
<line x1="626.50" y1="191.80" x2="624.50" y2="191.80" stroke="#999" stroke-width="0.8" />
<text x="493.00" y="194.00" font-size="6.2" font-family="Liberation Sans" fill="#222" text-anchor="end" textLength="8.60" lengthAdjust="spacingAndGlyphs" >0.2</text>
<line x1="495.50" y1="183.00" x2="497.50" y2="183.00" stroke="#999" stroke-width="0.8" />
<line x1="626.50" y1="183.00" x2="624.50" y2="183.00" stroke="#999" stroke-width="0.8" />
<text x="493.00" y="185.20" font-size="6.2" font-family="Liberation Sans" fill="#222" text-anchor="end" textLength="8.60" lengthAdjust="spacingAndGlyphs" >0.3</text>
<line x1="495.50" y1="174.20" x2="497.50" y2="174.20" stroke="#999" stroke-width="0.8" />
<line x1="626.50" y1="174.20" x2="624.50" y2="174.20" stroke="#999" stroke-width="0.8" />
<text x="493.00" y="176.40" font-size="6.2" font-family="Liberation Sans" fill="#222" text-anchor="end" textLength="8.60" lengthAdjust="spacingAndGlyphs" >0.4</text>
<line x1="495.50" y1="165.40" x2="497.50" y2="165.40" stroke="#999" stroke-width="0.8" />
<line x1="626.50" y1="165.40" x2="624.50" y2="165.40" stroke="#999" stroke-width="0.8" />
<text x="493.00" y="167.60" font-size="6.2" font-family="Liberation Sans" fill="#222" text-anchor="end" textLength="8.60" lengthAdjust="spacingAndGlyphs" >0.5</text>
<line x1="495.50" y1="156.60" x2="497.50" y2="156.60" stroke="#999" stroke-width="0.8" />
<line x1="626.50" y1="156.60" x2="624.50" y2="156.60" stroke="#999" stroke-width="0.8" />
<text x="493.00" y="158.80" font-size="6.2" font-family="Liberation Sans" fill="#222" text-anchor="end" textLength="8.60" lengthAdjust="spacingAndGlyphs" >0.6</text>
<line x1="495.50" y1="147.80" x2="497.50" y2="147.80" stroke="#999" stroke-width="0.8" />
<line x1="626.50" y1="147.80" x2="624.50" y2="147.80" stroke="#999" stroke-width="0.8" />
<text x="493.00" y="150.00" font-size="6.2" font-family="Liberation Sans" fill="#222" text-anchor="end" textLength="8.60" lengthAdjust="spacingAndGlyphs" >0.7</text>
<text x="507.00" y="222.80" font-size="12" font-family="Liberation Sans" fill="#000" text-anchor="middle" textLength="19.11" lengthAdjust="spacingAndGlyphs" >-20</text>
<text x="533.00" y="222.80" font-size="12" font-family="Liberation Sans" fill="#000" text-anchor="middle" textLength="19.11" lengthAdjust="spacingAndGlyphs" >-10</text>
<text x="562.30" y="222.80" font-size="12" font-family="Liberation Sans" fill="#000" text-anchor="middle" textLength="7.44" lengthAdjust="spacingAndGlyphs" >0</text>
<text x="587.40" y="222.80" font-size="12" font-family="Liberation Sans" fill="#000" text-anchor="middle" textLength="14.88" lengthAdjust="spacingAndGlyphs" >10</text>
<text x="613.40" y="222.80" font-size="12" font-family="Liberation Sans" fill="#000" text-anchor="middle" textLength="14.88" lengthAdjust="spacingAndGlyphs" >20</text>
<text x="561.00" y="243.70" font-size="12" font-family="Liberation Sans" fill="#000" text-anchor="middle" textLength="46.00" lengthAdjust="spacingAndGlyphs" >x (mm)</text>
<defs><linearGradient id="cbb" x1="0" y1="0" x2="0" y2="1"><stop offset="0.00" stop-color="#ffff00"/><stop offset="0.01" stop-color="#fef700"/><stop offset="0.02" stop-color="#fcf000"/><stop offset="0.03" stop-color="#fbe900"/><stop offset="0.04" stop-color="#fae200"/><stop offset="0.05" stop-color="#f9db00"/><stop offset="0.06" stop-color="#f7d400"/><stop offset="0.07" stop-color="#f6cd00"/><stop offset="0.08" stop-color="#f5c700"/><stop offset="0.09" stop-color="#f3c000"/><stop offset="0.10" stop-color="#f2ba00"/><stop offset="0.11" stop-color="#f1b400"/><stop offset="0.12" stop-color="#efae00"/><stop offset="0.13" stop-color="#eea800"/><stop offset="0.14" stop-color="#eca200"/><stop offset="0.15" stop-color="#eb9d00"/><stop offset="0.16" stop-color="#ea9700"/><stop offset="0.17" stop-color="#e89200"/><stop offset="0.18" stop-color="#e78d00"/><stop offset="0.19" stop-color="#e68800"/><stop offset="0.20" stop-color="#e48300"/><stop offset="0.21" stop-color="#e37e00"/><stop offset="0.22" stop-color="#e17900"/><stop offset="0.23" stop-color="#e07400"/><stop offset="0.24" stop-color="#de7000"/><stop offset="0.25" stop-color="#dd6c00"/><stop offset="0.26" stop-color="#db6700"/><stop offset="0.27" stop-color="#da6300"/><stop offset="0.28" stop-color="#d85f00"/><stop offset="0.29" stop-color="#d75b00"/><stop offset="0.30" stop-color="#d55700"/><stop offset="0.31" stop-color="#d45400"/><stop offset="0.32" stop-color="#d25000"/><stop offset="0.33" stop-color="#d14d00"/><stop offset="0.34" stop-color="#cf4900"/><stop offset="0.35" stop-color="#ce4600"/><stop offset="0.36" stop-color="#cc4300"/><stop offset="0.37" stop-color="#ca4000"/><stop offset="0.38" stop-color="#c93d00"/><stop offset="0.39" stop-color="#c73a00"/><stop offset="0.40" stop-color="#c63700"/><stop offset="0.41" stop-color="#c43400"/><stop offset="0.42" stop-color="#c23200"/><stop offset="0.43" stop-color="#c12f00"/><stop offset="0.44" stop-color="#bf2d00"/><stop offset="0.45" stop-color="#bd2a00"/><stop offset="0.46" stop-color="#bb2800"/><stop offset="0.47" stop-color="#ba2600"/><stop offset="0.48" stop-color="#b82400"/><stop offset="0.49" stop-color="#b62200"/><stop offset="0.50" stop-color="#b42000"/><stop offset="0.51" stop-color="#b21e10"/><stop offset="0.52" stop-color="#b11c20"/><stop offset="0.53" stop-color="#af1a30"/><stop offset="0.54" stop-color="#ad193f"/><stop offset="0.55" stop-color="#ab174f"/><stop offset="0.56" stop-color="#a9165e"/><stop offset="0.57" stop-color="#a7146d"/><stop offset="0.58" stop-color="#a5137b"/><stop offset="0.59" stop-color="#a31289"/><stop offset="0.60" stop-color="#a11096"/><stop offset="0.61" stop-color="#9f0fa3"/><stop offset="0.62" stop-color="#9d0eaf"/><stop offset="0.63" stop-color="#9b0dba"/><stop offset="0.64" stop-color="#990cc4"/><stop offset="0.65" stop-color="#970bce"/><stop offset="0.66" stop-color="#950ad7"/><stop offset="0.67" stop-color="#9209df"/><stop offset="0.68" stop-color="#9008e7"/><stop offset="0.69" stop-color="#8e08ed"/><stop offset="0.70" stop-color="#8c07f3"/><stop offset="0.71" stop-color="#8906f7"/><stop offset="0.72" stop-color="#8706fa"/><stop offset="0.73" stop-color="#8505fd"/><stop offset="0.74" stop-color="#8204fe"/><stop offset="0.75" stop-color="#8004ff"/><stop offset="0.76" stop-color="#7d04fe"/><stop offset="0.77" stop-color="#7a03fd"/><stop offset="0.78" stop-color="#7803fa"/><stop offset="0.79" stop-color="#7502f7"/><stop offset="0.80" stop-color="#7202f3"/><stop offset="0.81" stop-color="#6f02ed"/><stop offset="0.82" stop-color="#6c01e7"/><stop offset="0.83" stop-color="#6901df"/><stop offset="0.84" stop-color="#6601d7"/><stop offset="0.85" stop-color="#6301ce"/><stop offset="0.86" stop-color="#5f01c4"/><stop offset="0.87" stop-color="#5c01ba"/><stop offset="0.88" stop-color="#5800af"/><stop offset="0.89" stop-color="#5500a3"/><stop offset="0.90" stop-color="#510096"/><stop offset="0.91" stop-color="#4c0089"/><stop offset="0.92" stop-color="#48007b"/><stop offset="0.93" stop-color="#43006d"/><stop offset="0.94" stop-color="#3e005e"/><stop offset="0.95" stop-color="#39004f"/><stop offset="0.96" stop-color="#33003f"/><stop offset="0.97" stop-color="#2c0030"/><stop offset="0.98" stop-color="#240020"/><stop offset="0.99" stop-color="#1a0010"/><stop offset="1.00" stop-color="#000000"/></linearGradient></defs>
<rect x="636.7" y="12.1" width="6.899999999999977" height="197.4" fill="url(#cbb)" stroke="#888" stroke-width="0.8"/>
<text x="648.80" y="213.80" font-size="12" font-family="Liberation Sans" fill="#000" textLength="7.44" lengthAdjust="spacingAndGlyphs" >0</text>
<line x1="636.70" y1="181.30" x2="643.60" y2="181.30" stroke="#000" stroke-width="0.9" />
<text x="648.80" y="185.60" font-size="12" font-family="Liberation Sans" fill="#000" textLength="18.60" lengthAdjust="spacingAndGlyphs" >0.1</text>
<line x1="636.70" y1="153.10" x2="643.60" y2="153.10" stroke="#000" stroke-width="0.9" />
<text x="648.80" y="157.40" font-size="12" font-family="Liberation Sans" fill="#000" textLength="18.60" lengthAdjust="spacingAndGlyphs" >0.2</text>
<line x1="636.70" y1="124.90" x2="643.60" y2="124.90" stroke="#000" stroke-width="0.9" />
<text x="648.80" y="129.20" font-size="12" font-family="Liberation Sans" fill="#000" textLength="18.60" lengthAdjust="spacingAndGlyphs" >0.3</text>
<line x1="636.70" y1="96.70" x2="643.60" y2="96.70" stroke="#000" stroke-width="0.9" />
<text x="648.80" y="101.00" font-size="12" font-family="Liberation Sans" fill="#000" textLength="18.60" lengthAdjust="spacingAndGlyphs" >0.4</text>
<line x1="636.70" y1="68.50" x2="643.60" y2="68.50" stroke="#000" stroke-width="0.9" />
<text x="648.80" y="72.80" font-size="12" font-family="Liberation Sans" fill="#000" textLength="18.60" lengthAdjust="spacingAndGlyphs" >0.5</text>
<line x1="636.70" y1="40.30" x2="643.60" y2="40.30" stroke="#000" stroke-width="0.9" />
<text x="648.80" y="44.60" font-size="12" font-family="Liberation Sans" fill="#000" textLength="18.60" lengthAdjust="spacingAndGlyphs" >0.6</text>
<text x="648.80" y="16.40" font-size="12" font-family="Liberation Sans" fill="#000" textLength="18.60" lengthAdjust="spacingAndGlyphs" >0.7</text>
<text transform="translate(681.80,204.60) rotate(-90)" font-size="12" font-family="Liberation Sans" fill="#000" textLength="186.50" lengthAdjust="spacingAndGlyphs" >Dose per unit charge (Gy/nC*)</text>
<text x="91.40" y="292.20" font-size="14.5" font-family="Liberation Serif" fill="#000" font-weight="bold" >(c)</text>
<defs><clipPath id="im1"><rect x="138.5" y="286.0" width="115.5" height="116.5"/></clipPath></defs>
<g clip-path="url(#im1)">
<rect x="138.5" y="286.0" width="115.5" height="116.5" fill="#3377ff"/>
<path d="M196.00,286.40 C199.93,286.57 205.00,286.83 209.50,288.00 C214.00,289.17 218.95,291.37 223.00,293.40 C227.05,295.43 230.67,297.72 233.80,300.20 C236.93,302.68 239.57,305.60 241.80,308.30 C244.03,311.00 245.73,313.72 247.20,316.40 C248.67,319.08 249.80,321.48 250.60,324.40 C251.40,327.32 251.67,330.63 252.00,333.90 C252.33,337.17 252.55,340.52 252.60,344.00 C252.65,347.48 252.75,350.98 252.30,354.80 C251.85,358.62 251.20,363.08 249.90,366.90 C248.60,370.72 246.75,374.33 244.50,377.70 C242.25,381.07 239.53,384.28 236.40,387.10 C233.27,389.92 229.52,392.57 225.70,394.60 C221.88,396.63 217.55,398.18 213.50,399.30 C209.45,400.42 205.32,400.97 201.40,401.30 C197.48,401.63 193.48,401.63 190.00,401.30 C186.52,400.97 184.10,400.42 180.50,399.30 C176.90,398.18 172.00,396.63 168.40,394.60 C164.80,392.57 161.83,389.68 158.90,387.10 C155.97,384.52 153.27,382.23 150.80,379.10 C148.33,375.97 145.90,371.90 144.10,368.30 C142.30,364.70 140.85,361.22 140.00,357.50 C139.15,353.78 139.03,349.58 139.00,346.00 C138.97,342.42 139.37,339.15 139.80,336.00 C140.23,332.85 140.83,330.15 141.60,327.10 C142.37,324.05 143.08,320.83 144.40,317.70 C145.72,314.57 147.30,311.45 149.50,308.30 C151.70,305.15 154.68,301.38 157.60,298.80 C160.52,296.22 163.87,294.48 167.00,292.80 C170.13,291.12 173.25,289.67 176.40,288.70 C179.55,287.73 182.63,287.38 185.90,287.00 C189.17,286.62 192.07,286.23 196.00,286.40 Z" fill="#80ffff"/>
<defs><radialGradient id="bu1" gradientUnits="userSpaceOnUse" cx="193.0" cy="344.4" r="80" gradientTransform="translate(193.0,344.4) scale(1.0,1.8) translate(-193.0,-344.4)"><stop offset="0.0000" stop-color="#ff5208"/><stop offset="0.1000" stop-color="#ff4500"/><stop offset="0.1562" stop-color="#f03010"/><stop offset="0.2188" stop-color="#c81c28"/><stop offset="0.2812" stop-color="#981068"/><stop offset="0.3375" stop-color="#6810a8"/><stop offset="0.4000" stop-color="#3820e4"/><stop offset="0.4625" stop-color="#1c34ff"/><stop offset="0.5500" stop-color="#1850ff"/><stop offset="0.6500" stop-color="#1060ff"/><stop offset="1.0000" stop-color="#1060ff"/></radialGradient></defs>
<defs><radialGradient id="bd1" gradientUnits="userSpaceOnUse" cx="193.0" cy="344.4" r="80" gradientTransform="translate(193.0,344.4) scale(1.0,1.15) translate(-193.0,-344.4)"><stop offset="0.0000" stop-color="#ff5208"/><stop offset="0.1000" stop-color="#ff4500"/><stop offset="0.1562" stop-color="#f03010"/><stop offset="0.2188" stop-color="#c81c28"/><stop offset="0.2812" stop-color="#981068"/><stop offset="0.3375" stop-color="#6810a8"/><stop offset="0.4000" stop-color="#3820e4"/><stop offset="0.4625" stop-color="#1c34ff"/><stop offset="0.5500" stop-color="#1850ff"/><stop offset="0.6500" stop-color="#1060ff"/><stop offset="1.0000" stop-color="#1060ff"/></radialGradient></defs>
<defs><clipPath id="bk1"><path d="M194.18,287.39 C197.93,287.55 202.77,287.81 207.07,288.92 C211.37,290.03 216.09,292.14 219.96,294.08 C223.83,296.02 227.28,298.20 230.28,300.57 C233.27,302.94 235.78,305.73 237.92,308.31 C240.05,310.88 241.67,313.48 243.07,316.04 C244.47,318.60 245.56,320.90 246.32,323.68 C247.08,326.47 247.34,329.63 247.66,332.75 C247.98,335.87 248.18,339.07 248.23,342.40 C248.28,345.73 248.37,349.07 247.94,352.71 C247.51,356.36 246.89,360.62 245.65,364.27 C244.41,367.91 242.64,371.37 240.49,374.58 C238.35,377.80 235.75,380.87 232.76,383.56 C229.77,386.25 226.19,388.78 222.54,390.72 C218.90,392.66 214.76,394.15 210.89,395.21 C207.02,396.28 203.07,396.80 199.33,397.12 C195.59,397.44 191.77,397.44 188.45,397.12 C185.12,396.80 182.81,396.28 179.38,395.21 C175.94,394.15 171.26,392.66 167.82,390.72 C164.38,388.78 161.55,386.03 158.75,383.56 C155.95,381.09 153.37,378.91 151.01,375.92 C148.66,372.93 146.33,369.04 144.61,365.61 C142.89,362.17 141.51,358.84 140.70,355.29 C139.89,351.74 139.77,347.73 139.74,344.31 C139.71,340.89 140.09,337.77 140.51,334.76 C140.92,331.75 141.49,329.17 142.23,326.26 C142.96,323.35 143.64,320.28 144.90,317.28 C146.16,314.29 147.67,311.31 149.77,308.31 C151.87,305.30 154.72,301.70 157.51,299.23 C160.29,296.77 163.49,295.11 166.48,293.50 C169.47,291.90 172.45,290.51 175.46,289.59 C178.47,288.67 181.41,288.33 184.53,287.96 C187.65,287.60 190.42,287.23 194.18,287.39 Z"/></clipPath><clipPath id="bb1"><path d="M130,321.0 L144,319.6 L170,317.2 L196,315.5 L220,314.9 L236.4,315 Q244,315.5 247,322 L262,330 L262,388 L230,388.6 L196,390.2 L170,391 L130,392 Z"/></clipPath><filter id="bl1" x="-10%" y="-10%" width="120%" height="120%"><feGaussianBlur stdDeviation="0.8"/></filter></defs>
<g clip-path="url(#bk1)"><g filter="url(#bl1)"><g clip-path="url(#bb1)">
<rect x="138.5" y="286.0" width="115.5" height="116.5" fill="url(#bd1)"/>
<rect x="138.5" y="286.0" width="115.5" height="58.00" fill="url(#bu1)"/>
</g></g>
<polyline points="130,321.6 144,320.2 170,317.8 196,316.1 220,315.5 234,315.6" fill="none" stroke="#1818e8" stroke-width="1.8" opacity="0.75" stroke-linecap="round"/></g>
<path d="M196.00,286.40 C199.93,286.57 205.00,286.83 209.50,288.00 C214.00,289.17 218.95,291.37 223.00,293.40 C227.05,295.43 230.67,297.72 233.80,300.20 C236.93,302.68 239.57,305.60 241.80,308.30 C244.03,311.00 245.73,313.72 247.20,316.40 C248.67,319.08 249.80,321.48 250.60,324.40 C251.40,327.32 251.67,330.63 252.00,333.90 C252.33,337.17 252.55,340.52 252.60,344.00 C252.65,347.48 252.75,350.98 252.30,354.80 C251.85,358.62 251.20,363.08 249.90,366.90 C248.60,370.72 246.75,374.33 244.50,377.70 C242.25,381.07 239.53,384.28 236.40,387.10 C233.27,389.92 229.52,392.57 225.70,394.60 C221.88,396.63 217.55,398.18 213.50,399.30 C209.45,400.42 205.32,400.97 201.40,401.30 C197.48,401.63 193.48,401.63 190.00,401.30 C186.52,400.97 184.10,400.42 180.50,399.30 C176.90,398.18 172.00,396.63 168.40,394.60 C164.80,392.57 161.83,389.68 158.90,387.10 C155.97,384.52 153.27,382.23 150.80,379.10 C148.33,375.97 145.90,371.90 144.10,368.30 C142.30,364.70 140.85,361.22 140.00,357.50 C139.15,353.78 139.03,349.58 139.00,346.00 C138.97,342.42 139.37,339.15 139.80,336.00 C140.23,332.85 140.83,330.15 141.60,327.10 C142.37,324.05 143.08,320.83 144.40,317.70 C145.72,314.57 147.30,311.45 149.50,308.30 C151.70,305.15 154.68,301.38 157.60,298.80 C160.52,296.22 163.87,294.48 167.00,292.80 C170.13,291.12 173.25,289.67 176.40,288.70 C179.55,287.73 182.63,287.38 185.90,287.00 C189.17,286.62 192.07,286.23 196.00,286.40 Z" fill="none" stroke="#e4e028" stroke-width="1.3" opacity="0.7"/>
</g>
<rect x="138.5" y="286.0" width="115.5" height="116.5" fill="none" stroke="#333" stroke-width="0.6"/>
<defs><clipPath id="im2"><rect x="271.8" y="286.0" width="114.80000000000001" height="116.5"/></clipPath></defs>
<g clip-path="url(#im2)">
<rect x="271.8" y="286.0" width="114.80000000000001" height="116.5" fill="#3377ff"/>
<path d="M328.00,287.50 C331.85,287.63 336.50,288.40 341.00,289.50 C345.50,290.60 350.43,291.87 355.00,294.10 C359.57,296.33 364.82,299.63 368.40,302.90 C371.98,306.17 374.25,310.12 376.50,313.70 C378.75,317.28 380.55,320.35 381.90,324.40 C383.25,328.45 384.03,333.62 384.60,338.00 C385.17,342.38 385.30,346.78 385.30,350.70 C385.30,354.62 385.38,358.12 384.60,361.50 C383.82,364.88 382.40,367.85 380.60,371.00 C378.80,374.15 376.27,377.48 373.80,380.40 C371.33,383.32 368.93,386.13 365.80,388.50 C362.67,390.87 359.05,392.92 355.00,394.60 C350.95,396.28 346.00,397.60 341.50,398.60 C337.00,399.60 332.62,400.72 328.00,400.60 C323.38,400.48 318.18,399.02 313.80,397.90 C309.42,396.78 305.52,395.70 301.70,393.90 C297.88,392.10 294.05,389.57 290.90,387.10 C287.75,384.63 285.27,382.23 282.80,379.10 C280.33,375.97 277.85,372.13 276.10,368.30 C274.35,364.47 273.02,360.15 272.30,356.10 C271.58,352.05 271.80,348.15 271.80,344.00 C271.80,339.85 271.82,334.47 272.30,331.20 C272.78,327.93 273.62,327.10 274.70,324.40 C275.78,321.70 277.22,317.92 278.80,315.00 C280.38,312.08 281.95,309.60 284.20,306.90 C286.45,304.20 289.62,301.05 292.30,298.80 C294.98,296.55 297.62,294.75 300.30,293.40 C302.98,292.05 305.47,291.48 308.40,290.70 C311.33,289.92 314.63,289.23 317.90,288.70 C321.17,288.17 324.15,287.37 328.00,287.50 Z" fill="#80ffff"/>
<defs><radialGradient id="bu2" gradientUnits="userSpaceOnUse" cx="326.7" cy="344.4" r="80" gradientTransform="translate(326.7,344.4) scale(1.05,1.25) translate(-326.7,-344.4)"><stop offset="0.0000" stop-color="#ff5208"/><stop offset="0.1000" stop-color="#ff4500"/><stop offset="0.1562" stop-color="#f03010"/><stop offset="0.2188" stop-color="#c81c28"/><stop offset="0.2812" stop-color="#981068"/><stop offset="0.3375" stop-color="#6010b0"/><stop offset="0.3937" stop-color="#2020f0"/><stop offset="0.4500" stop-color="#1040ff"/><stop offset="0.5250" stop-color="#1860ff"/><stop offset="0.5875" stop-color="#3a8cff"/><stop offset="0.6500" stop-color="#50a8ff"/><stop offset="1.0000" stop-color="#50a8ff"/></radialGradient></defs>
<defs><radialGradient id="bd2" gradientUnits="userSpaceOnUse" cx="326.7" cy="344.4" r="80" gradientTransform="translate(326.7,344.4) scale(1.05,1.05) translate(-326.7,-344.4)"><stop offset="0.0000" stop-color="#ff5208"/><stop offset="0.1000" stop-color="#ff4500"/><stop offset="0.1562" stop-color="#f03010"/><stop offset="0.2188" stop-color="#c81c28"/><stop offset="0.2812" stop-color="#981068"/><stop offset="0.3375" stop-color="#6010b0"/><stop offset="0.3937" stop-color="#2020f0"/><stop offset="0.4500" stop-color="#1040ff"/><stop offset="0.5250" stop-color="#1860ff"/><stop offset="0.5875" stop-color="#3a8cff"/><stop offset="0.6500" stop-color="#50a8ff"/><stop offset="1.0000" stop-color="#50a8ff"/></radialGradient></defs>
<defs><clipPath id="bk2"><path d="M328.02,290.04 C331.70,290.17 336.14,290.90 340.44,291.95 C344.74,293.00 349.45,294.21 353.81,296.35 C358.17,298.48 363.18,301.63 366.60,304.75 C370.03,307.87 372.19,311.64 374.34,315.06 C376.49,318.49 378.21,321.41 379.50,325.28 C380.79,329.15 381.53,334.08 382.08,338.27 C382.62,342.46 382.74,346.66 382.74,350.40 C382.74,354.14 382.82,357.48 382.08,360.71 C381.33,363.94 379.97,366.78 378.26,369.79 C376.54,372.79 374.12,375.98 371.76,378.76 C369.41,381.55 367.11,384.24 364.12,386.50 C361.13,388.76 357.68,390.72 353.81,392.32 C349.94,393.93 345.21,395.19 340.92,396.14 C336.62,397.10 332.43,398.16 328.02,398.05 C323.61,397.94 318.65,396.54 314.46,395.47 C310.28,394.41 306.55,393.37 302.91,391.65 C299.26,389.94 295.60,387.52 292.59,385.16 C289.58,382.80 287.21,380.51 284.86,377.52 C282.50,374.53 280.13,370.87 278.46,367.21 C276.79,363.55 275.51,359.42 274.83,355.56 C274.14,351.69 274.35,347.96 274.35,344.00 C274.35,340.04 274.37,334.90 274.83,331.78 C275.29,328.66 276.09,327.86 277.12,325.28 C278.16,322.70 279.52,319.09 281.04,316.31 C282.55,313.52 284.04,311.15 286.19,308.57 C288.34,305.99 291.37,302.98 293.93,300.83 C296.49,298.69 299.01,296.97 301.57,295.68 C304.13,294.39 306.50,293.85 309.30,293.10 C312.11,292.35 315.26,291.70 318.38,291.19 C321.50,290.68 324.35,289.92 328.02,290.04 Z"/></clipPath><clipPath id="bb2"><path d="M262,320.6 L272,320.4 L300,319.4 L328,318.4 L350,317.4 L366,316.8 Q373,317 376.5,326 L392,334 L392,392 L350,391.5 L328,391.0 L300,391.5 L262,392 Z"/></clipPath><filter id="bl2" x="-10%" y="-10%" width="120%" height="120%"><feGaussianBlur stdDeviation="0.8"/></filter></defs>
<g clip-path="url(#bk2)"><g filter="url(#bl2)"><g clip-path="url(#bb2)">
<rect x="271.8" y="286.0" width="114.80000000000001" height="116.5" fill="url(#bd2)"/>
<rect x="271.8" y="286.0" width="114.80000000000001" height="58.00" fill="url(#bu2)"/>
</g></g>
<polyline points="290,319.9 300,319.6 328,318.6 350,317.6 364,317.0" fill="none" stroke="#1818e8" stroke-width="1.8" opacity="0.75" stroke-linecap="round"/></g>
<path d="M328.00,287.50 C331.85,287.63 336.50,288.40 341.00,289.50 C345.50,290.60 350.43,291.87 355.00,294.10 C359.57,296.33 364.82,299.63 368.40,302.90 C371.98,306.17 374.25,310.12 376.50,313.70 C378.75,317.28 380.55,320.35 381.90,324.40 C383.25,328.45 384.03,333.62 384.60,338.00 C385.17,342.38 385.30,346.78 385.30,350.70 C385.30,354.62 385.38,358.12 384.60,361.50 C383.82,364.88 382.40,367.85 380.60,371.00 C378.80,374.15 376.27,377.48 373.80,380.40 C371.33,383.32 368.93,386.13 365.80,388.50 C362.67,390.87 359.05,392.92 355.00,394.60 C350.95,396.28 346.00,397.60 341.50,398.60 C337.00,399.60 332.62,400.72 328.00,400.60 C323.38,400.48 318.18,399.02 313.80,397.90 C309.42,396.78 305.52,395.70 301.70,393.90 C297.88,392.10 294.05,389.57 290.90,387.10 C287.75,384.63 285.27,382.23 282.80,379.10 C280.33,375.97 277.85,372.13 276.10,368.30 C274.35,364.47 273.02,360.15 272.30,356.10 C271.58,352.05 271.80,348.15 271.80,344.00 C271.80,339.85 271.82,334.47 272.30,331.20 C272.78,327.93 273.62,327.10 274.70,324.40 C275.78,321.70 277.22,317.92 278.80,315.00 C280.38,312.08 281.95,309.60 284.20,306.90 C286.45,304.20 289.62,301.05 292.30,298.80 C294.98,296.55 297.62,294.75 300.30,293.40 C302.98,292.05 305.47,291.48 308.40,290.70 C311.33,289.92 314.63,289.23 317.90,288.70 C321.17,288.17 324.15,287.37 328.00,287.50 Z" fill="none" stroke="#e4e028" stroke-width="1.3" opacity="0.7"/>
</g>
<rect x="271.8" y="286.0" width="114.80000000000001" height="116.5" fill="none" stroke="#333" stroke-width="0.6"/>
<text x="174" y="299.5" font-size="10" font-family="Liberation Sans" font-style="italic" fill="#50a0f0" opacity="0.45" textLength="27" lengthAdjust="spacingAndGlyphs">4S&#8593;A</text>
<text x="309" y="300" font-size="10" font-family="Liberation Sans" font-style="italic" fill="#50a0f0" opacity="0.45" textLength="30" lengthAdjust="spacingAndGlyphs">4S&#8593;B</text>
<rect x="403.2" y="286.0" width="115.40000000000003" height="116.5" fill="#3377ff"/>
<path d="M463.00,297.40 C466.67,297.52 469.95,298.02 473.50,298.80 C477.05,299.58 480.93,300.65 484.30,302.10 C487.67,303.55 491.02,305.47 493.70,307.50 C496.38,309.53 498.38,311.82 500.40,314.30 C502.42,316.78 504.33,319.48 505.80,322.40 C507.27,325.32 508.30,328.70 509.20,331.80 C510.10,334.90 510.90,338.22 511.20,341.00 C511.50,343.78 511.33,346.03 511.00,348.50 C510.67,350.97 510.07,353.02 509.20,355.80 C508.33,358.58 507.27,362.17 505.80,365.20 C504.33,368.23 502.42,371.52 500.40,374.00 C498.38,376.48 496.38,377.97 493.70,380.10 C491.02,382.23 487.67,385.02 484.30,386.80 C480.93,388.58 477.05,389.85 473.50,390.80 C469.95,391.75 466.88,392.38 463.00,392.50 C459.12,392.62 454.13,392.23 450.20,391.50 C446.27,390.77 442.55,389.55 439.40,388.10 C436.25,386.65 434.00,385.03 431.30,382.80 C428.60,380.57 425.67,377.63 423.20,374.70 C420.73,371.77 418.18,368.35 416.50,365.20 C414.82,362.05 413.78,359.17 413.10,355.80 C412.42,352.43 412.28,348.10 412.40,345.00 C412.52,341.90 412.90,340.52 413.80,337.20 C414.70,333.88 416.00,328.92 417.80,325.10 C419.60,321.28 422.12,317.45 424.60,314.30 C427.08,311.15 429.78,308.45 432.70,306.20 C435.62,303.95 438.97,302.15 442.10,300.80 C445.23,299.45 448.02,298.67 451.50,298.10 C454.98,297.53 459.33,297.28 463.00,297.40 Z" fill="#80ffff"/>
<defs><linearGradient id="b3" x1="0" y1="0" x2="1" y2="0"><stop offset="0" stop-color="#7cf8fe"/><stop offset="0.4" stop-color="#72eafa"/><stop offset="1" stop-color="#66d8f8"/></linearGradient><filter id="bl3" x="-20%" y="-20%" width="140%" height="140%"><feGaussianBlur stdDeviation="1.6"/></filter></defs>
<path d="M432,321 L490,318.5 Q497,318.5 497,325 L497,356 Q497,363 490,363 L434,364 Q426,364 426,357 L426,328 Q426,321 432,321 Z" fill="url(#b3)" filter="url(#bl3)"/>
<defs><radialGradient id="d3"><stop offset="0" stop-color="#4a10c8"/><stop offset="0.35" stop-color="#3c14e0"/><stop offset="1" stop-color="#3218f0"/></radialGradient></defs>
<circle cx="460.5" cy="345.8" r="13.1" fill="url(#d3)"/>
<path d="M463.00,297.40 C466.67,297.52 469.95,298.02 473.50,298.80 C477.05,299.58 480.93,300.65 484.30,302.10 C487.67,303.55 491.02,305.47 493.70,307.50 C496.38,309.53 498.38,311.82 500.40,314.30 C502.42,316.78 504.33,319.48 505.80,322.40 C507.27,325.32 508.30,328.70 509.20,331.80 C510.10,334.90 510.90,338.22 511.20,341.00 C511.50,343.78 511.33,346.03 511.00,348.50 C510.67,350.97 510.07,353.02 509.20,355.80 C508.33,358.58 507.27,362.17 505.80,365.20 C504.33,368.23 502.42,371.52 500.40,374.00 C498.38,376.48 496.38,377.97 493.70,380.10 C491.02,382.23 487.67,385.02 484.30,386.80 C480.93,388.58 477.05,389.85 473.50,390.80 C469.95,391.75 466.88,392.38 463.00,392.50 C459.12,392.62 454.13,392.23 450.20,391.50 C446.27,390.77 442.55,389.55 439.40,388.10 C436.25,386.65 434.00,385.03 431.30,382.80 C428.60,380.57 425.67,377.63 423.20,374.70 C420.73,371.77 418.18,368.35 416.50,365.20 C414.82,362.05 413.78,359.17 413.10,355.80 C412.42,352.43 412.28,348.10 412.40,345.00 C412.52,341.90 412.90,340.52 413.80,337.20 C414.70,333.88 416.00,328.92 417.80,325.10 C419.60,321.28 422.12,317.45 424.60,314.30 C427.08,311.15 429.78,308.45 432.70,306.20 C435.62,303.95 438.97,302.15 442.10,300.80 C445.23,299.45 448.02,298.67 451.50,298.10 C454.98,297.53 459.33,297.28 463.00,297.40 Z" fill="none" stroke="#c0a060" stroke-width="0.6" opacity="0.6"/>
<text x="439" y="310.5" font-size="10.5" font-family="Liberation Sans" font-style="italic" fill="#50a0f0" opacity="0.45" textLength="33" lengthAdjust="spacingAndGlyphs">4S&#8593;C</text>
<rect x="403.2" y="286.0" width="115.40000000000003" height="116.5" fill="none" stroke="#333" stroke-width="0.6"/>
<line x1="140.10" y1="286.00" x2="140.10" y2="282.50" stroke="#333" stroke-width="0.7" />
<line x1="145.36" y1="286.00" x2="145.36" y2="284.20" stroke="#333" stroke-width="0.7" />
<line x1="150.62" y1="286.00" x2="150.62" y2="284.20" stroke="#333" stroke-width="0.7" />
<line x1="155.88" y1="286.00" x2="155.88" y2="284.20" stroke="#333" stroke-width="0.7" />
<line x1="161.14" y1="286.00" x2="161.14" y2="284.20" stroke="#333" stroke-width="0.7" />
<line x1="166.40" y1="286.00" x2="166.40" y2="282.50" stroke="#333" stroke-width="0.7" />
<line x1="171.66" y1="286.00" x2="171.66" y2="284.20" stroke="#333" stroke-width="0.7" />
<line x1="176.92" y1="286.00" x2="176.92" y2="284.20" stroke="#333" stroke-width="0.7" />
<line x1="182.18" y1="286.00" x2="182.18" y2="284.20" stroke="#333" stroke-width="0.7" />
<line x1="187.44" y1="286.00" x2="187.44" y2="284.20" stroke="#333" stroke-width="0.7" />
<line x1="192.70" y1="286.00" x2="192.70" y2="282.50" stroke="#333" stroke-width="0.7" />
<line x1="197.96" y1="286.00" x2="197.96" y2="284.20" stroke="#333" stroke-width="0.7" />
<line x1="203.22" y1="286.00" x2="203.22" y2="284.20" stroke="#333" stroke-width="0.7" />
<line x1="208.48" y1="286.00" x2="208.48" y2="284.20" stroke="#333" stroke-width="0.7" />
<line x1="213.74" y1="286.00" x2="213.74" y2="284.20" stroke="#333" stroke-width="0.7" />
<line x1="219.00" y1="286.00" x2="219.00" y2="282.50" stroke="#333" stroke-width="0.7" />
<line x1="224.26" y1="286.00" x2="224.26" y2="284.20" stroke="#333" stroke-width="0.7" />
<line x1="229.52" y1="286.00" x2="229.52" y2="284.20" stroke="#333" stroke-width="0.7" />
<line x1="234.78" y1="286.00" x2="234.78" y2="284.20" stroke="#333" stroke-width="0.7" />
<line x1="240.04" y1="286.00" x2="240.04" y2="284.20" stroke="#333" stroke-width="0.7" />
<line x1="245.30" y1="286.00" x2="245.30" y2="282.50" stroke="#333" stroke-width="0.7" />
<line x1="250.56" y1="286.00" x2="250.56" y2="284.20" stroke="#333" stroke-width="0.7" />
<text x="140.70" y="280.60" font-size="8.8" font-family="Liberation Sans" fill="#000" text-anchor="middle" >-20</text>
<text x="167.00" y="280.60" font-size="8.8" font-family="Liberation Sans" fill="#000" text-anchor="middle" >-10</text>
<text x="193.30" y="280.60" font-size="8.8" font-family="Liberation Sans" fill="#000" text-anchor="middle" >0</text>
<text x="219.60" y="280.60" font-size="8.8" font-family="Liberation Sans" fill="#000" text-anchor="middle" >10</text>
<text x="245.90" y="280.60" font-size="8.8" font-family="Liberation Sans" fill="#000" text-anchor="middle" >20</text>
<text x="192.70" y="266.60" font-size="10.6" font-family="Liberation Sans" fill="#000" text-anchor="middle" textLength="18.00" lengthAdjust="spacingAndGlyphs" >mm</text>
<line x1="275.00" y1="286.00" x2="275.00" y2="282.50" stroke="#333" stroke-width="0.7" />
<line x1="280.26" y1="286.00" x2="280.26" y2="284.20" stroke="#333" stroke-width="0.7" />
<line x1="285.52" y1="286.00" x2="285.52" y2="284.20" stroke="#333" stroke-width="0.7" />
<line x1="290.78" y1="286.00" x2="290.78" y2="284.20" stroke="#333" stroke-width="0.7" />
<line x1="296.04" y1="286.00" x2="296.04" y2="284.20" stroke="#333" stroke-width="0.7" />
<line x1="301.30" y1="286.00" x2="301.30" y2="282.50" stroke="#333" stroke-width="0.7" />
<line x1="306.56" y1="286.00" x2="306.56" y2="284.20" stroke="#333" stroke-width="0.7" />
<line x1="311.82" y1="286.00" x2="311.82" y2="284.20" stroke="#333" stroke-width="0.7" />
<line x1="317.08" y1="286.00" x2="317.08" y2="284.20" stroke="#333" stroke-width="0.7" />
<line x1="322.34" y1="286.00" x2="322.34" y2="284.20" stroke="#333" stroke-width="0.7" />
<line x1="327.60" y1="286.00" x2="327.60" y2="282.50" stroke="#333" stroke-width="0.7" />
<line x1="332.86" y1="286.00" x2="332.86" y2="284.20" stroke="#333" stroke-width="0.7" />
<line x1="338.12" y1="286.00" x2="338.12" y2="284.20" stroke="#333" stroke-width="0.7" />
<line x1="343.38" y1="286.00" x2="343.38" y2="284.20" stroke="#333" stroke-width="0.7" />
<line x1="348.64" y1="286.00" x2="348.64" y2="284.20" stroke="#333" stroke-width="0.7" />
<line x1="353.90" y1="286.00" x2="353.90" y2="282.50" stroke="#333" stroke-width="0.7" />
<line x1="359.16" y1="286.00" x2="359.16" y2="284.20" stroke="#333" stroke-width="0.7" />
<line x1="364.42" y1="286.00" x2="364.42" y2="284.20" stroke="#333" stroke-width="0.7" />
<line x1="369.68" y1="286.00" x2="369.68" y2="284.20" stroke="#333" stroke-width="0.7" />
<line x1="374.94" y1="286.00" x2="374.94" y2="284.20" stroke="#333" stroke-width="0.7" />
<line x1="380.20" y1="286.00" x2="380.20" y2="282.50" stroke="#333" stroke-width="0.7" />
<line x1="385.46" y1="286.00" x2="385.46" y2="284.20" stroke="#333" stroke-width="0.7" />
<text x="275.60" y="280.60" font-size="8.8" font-family="Liberation Sans" fill="#000" text-anchor="middle" >-20</text>
<text x="301.90" y="280.60" font-size="8.8" font-family="Liberation Sans" fill="#000" text-anchor="middle" >-10</text>
<text x="328.20" y="280.60" font-size="8.8" font-family="Liberation Sans" fill="#000" text-anchor="middle" >0</text>
<text x="354.50" y="280.60" font-size="8.8" font-family="Liberation Sans" fill="#000" text-anchor="middle" >10</text>
<text x="380.80" y="280.60" font-size="8.8" font-family="Liberation Sans" fill="#000" text-anchor="middle" >20</text>
<text x="327.60" y="266.60" font-size="10.6" font-family="Liberation Sans" fill="#000" text-anchor="middle" textLength="18.00" lengthAdjust="spacingAndGlyphs" >mm</text>
<line x1="409.60" y1="286.00" x2="409.60" y2="282.50" stroke="#333" stroke-width="0.7" />
<line x1="414.82" y1="286.00" x2="414.82" y2="284.20" stroke="#333" stroke-width="0.7" />
<line x1="420.04" y1="286.00" x2="420.04" y2="284.20" stroke="#333" stroke-width="0.7" />
<line x1="425.26" y1="286.00" x2="425.26" y2="284.20" stroke="#333" stroke-width="0.7" />
<line x1="430.48" y1="286.00" x2="430.48" y2="284.20" stroke="#333" stroke-width="0.7" />
<line x1="435.70" y1="286.00" x2="435.70" y2="282.50" stroke="#333" stroke-width="0.7" />
<line x1="440.92" y1="286.00" x2="440.92" y2="284.20" stroke="#333" stroke-width="0.7" />
<line x1="446.14" y1="286.00" x2="446.14" y2="284.20" stroke="#333" stroke-width="0.7" />
<line x1="451.36" y1="286.00" x2="451.36" y2="284.20" stroke="#333" stroke-width="0.7" />
<line x1="456.58" y1="286.00" x2="456.58" y2="284.20" stroke="#333" stroke-width="0.7" />
<line x1="461.80" y1="286.00" x2="461.80" y2="282.50" stroke="#333" stroke-width="0.7" />
<line x1="467.02" y1="286.00" x2="467.02" y2="284.20" stroke="#333" stroke-width="0.7" />
<line x1="472.24" y1="286.00" x2="472.24" y2="284.20" stroke="#333" stroke-width="0.7" />
<line x1="477.46" y1="286.00" x2="477.46" y2="284.20" stroke="#333" stroke-width="0.7" />
<line x1="482.68" y1="286.00" x2="482.68" y2="284.20" stroke="#333" stroke-width="0.7" />
<line x1="487.90" y1="286.00" x2="487.90" y2="282.50" stroke="#333" stroke-width="0.7" />
<line x1="493.12" y1="286.00" x2="493.12" y2="284.20" stroke="#333" stroke-width="0.7" />
<line x1="498.34" y1="286.00" x2="498.34" y2="284.20" stroke="#333" stroke-width="0.7" />
<line x1="503.56" y1="286.00" x2="503.56" y2="284.20" stroke="#333" stroke-width="0.7" />
<line x1="508.78" y1="286.00" x2="508.78" y2="284.20" stroke="#333" stroke-width="0.7" />
<line x1="514.00" y1="286.00" x2="514.00" y2="282.50" stroke="#333" stroke-width="0.7" />
<line x1="519.22" y1="286.00" x2="519.22" y2="284.20" stroke="#333" stroke-width="0.7" />
<text x="410.20" y="280.60" font-size="8.8" font-family="Liberation Sans" fill="#000" text-anchor="middle" >-20</text>
<text x="436.30" y="280.60" font-size="8.8" font-family="Liberation Sans" fill="#000" text-anchor="middle" >-10</text>
<text x="462.40" y="280.60" font-size="8.8" font-family="Liberation Sans" fill="#000" text-anchor="middle" >0</text>
<text x="488.50" y="280.60" font-size="8.8" font-family="Liberation Sans" fill="#000" text-anchor="middle" >10</text>
<text x="514.60" y="280.60" font-size="8.8" font-family="Liberation Sans" fill="#000" text-anchor="middle" >20</text>
<text x="461.80" y="266.60" font-size="10.6" font-family="Liberation Sans" fill="#000" text-anchor="middle" textLength="18.00" lengthAdjust="spacingAndGlyphs" >mm</text>
<line x1="138.50" y1="290.80" x2="135.00" y2="290.80" stroke="#333" stroke-width="0.7" />
<line x1="138.50" y1="296.00" x2="136.70" y2="296.00" stroke="#333" stroke-width="0.7" />
<line x1="138.50" y1="301.20" x2="136.70" y2="301.20" stroke="#333" stroke-width="0.7" />
<line x1="138.50" y1="306.40" x2="136.70" y2="306.40" stroke="#333" stroke-width="0.7" />
<line x1="138.50" y1="311.60" x2="136.70" y2="311.60" stroke="#333" stroke-width="0.7" />
<line x1="138.50" y1="316.80" x2="135.00" y2="316.80" stroke="#333" stroke-width="0.7" />
<line x1="138.50" y1="322.00" x2="136.70" y2="322.00" stroke="#333" stroke-width="0.7" />
<line x1="138.50" y1="327.20" x2="136.70" y2="327.20" stroke="#333" stroke-width="0.7" />
<line x1="138.50" y1="332.40" x2="136.70" y2="332.40" stroke="#333" stroke-width="0.7" />
<line x1="138.50" y1="337.60" x2="136.70" y2="337.60" stroke="#333" stroke-width="0.7" />
<line x1="138.50" y1="342.80" x2="135.00" y2="342.80" stroke="#333" stroke-width="0.7" />
<line x1="138.50" y1="348.00" x2="136.70" y2="348.00" stroke="#333" stroke-width="0.7" />
<line x1="138.50" y1="353.20" x2="136.70" y2="353.20" stroke="#333" stroke-width="0.7" />
<line x1="138.50" y1="358.40" x2="136.70" y2="358.40" stroke="#333" stroke-width="0.7" />
<line x1="138.50" y1="363.60" x2="136.70" y2="363.60" stroke="#333" stroke-width="0.7" />
<line x1="138.50" y1="368.80" x2="135.00" y2="368.80" stroke="#333" stroke-width="0.7" />
<line x1="138.50" y1="374.00" x2="136.70" y2="374.00" stroke="#333" stroke-width="0.7" />
<line x1="138.50" y1="379.20" x2="136.70" y2="379.20" stroke="#333" stroke-width="0.7" />
<line x1="138.50" y1="384.40" x2="136.70" y2="384.40" stroke="#333" stroke-width="0.7" />
<line x1="138.50" y1="389.60" x2="136.70" y2="389.60" stroke="#333" stroke-width="0.7" />
<line x1="138.50" y1="394.80" x2="135.00" y2="394.80" stroke="#333" stroke-width="0.7" />
<line x1="138.50" y1="400.00" x2="136.70" y2="400.00" stroke="#333" stroke-width="0.7" />
<text transform="translate(124.30,290.80) rotate(90)" font-size="8.8" font-family="Liberation Sans" fill="#000" text-anchor="middle" >-20</text>
<text transform="translate(124.30,316.80) rotate(90)" font-size="8.8" font-family="Liberation Sans" fill="#000" text-anchor="middle" >-10</text>
<text transform="translate(124.30,342.80) rotate(90)" font-size="8.8" font-family="Liberation Sans" fill="#000" text-anchor="middle" >0</text>
<text transform="translate(124.30,368.80) rotate(90)" font-size="8.8" font-family="Liberation Sans" fill="#000" text-anchor="middle" >10</text>
<text transform="translate(124.30,394.80) rotate(90)" font-size="8.8" font-family="Liberation Sans" fill="#000" text-anchor="middle" >20</text>
<text transform="translate(118.50,343.00) rotate(-90)" font-size="10.6" font-family="Liberation Sans" fill="#000" text-anchor="middle" textLength="18.00" lengthAdjust="spacingAndGlyphs" >mm</text>
<line x1="518.60" y1="289.62" x2="520.40" y2="289.62" stroke="#333" stroke-width="0.7" />
<line x1="518.60" y1="294.80" x2="522.10" y2="294.80" stroke="#333" stroke-width="0.7" />
<line x1="518.60" y1="299.98" x2="520.40" y2="299.98" stroke="#333" stroke-width="0.7" />
<line x1="518.60" y1="305.16" x2="520.40" y2="305.16" stroke="#333" stroke-width="0.7" />
<line x1="518.60" y1="310.34" x2="520.40" y2="310.34" stroke="#333" stroke-width="0.7" />
<line x1="518.60" y1="315.52" x2="520.40" y2="315.52" stroke="#333" stroke-width="0.7" />
<line x1="518.60" y1="320.70" x2="522.10" y2="320.70" stroke="#333" stroke-width="0.7" />
<line x1="518.60" y1="325.88" x2="520.40" y2="325.88" stroke="#333" stroke-width="0.7" />
<line x1="518.60" y1="331.06" x2="520.40" y2="331.06" stroke="#333" stroke-width="0.7" />
<line x1="518.60" y1="336.24" x2="520.40" y2="336.24" stroke="#333" stroke-width="0.7" />
<line x1="518.60" y1="341.42" x2="520.40" y2="341.42" stroke="#333" stroke-width="0.7" />
<line x1="518.60" y1="346.60" x2="522.10" y2="346.60" stroke="#333" stroke-width="0.7" />
<line x1="518.60" y1="351.78" x2="520.40" y2="351.78" stroke="#333" stroke-width="0.7" />
<line x1="518.60" y1="356.96" x2="520.40" y2="356.96" stroke="#333" stroke-width="0.7" />
<line x1="518.60" y1="362.14" x2="520.40" y2="362.14" stroke="#333" stroke-width="0.7" />
<line x1="518.60" y1="367.32" x2="520.40" y2="367.32" stroke="#333" stroke-width="0.7" />
<line x1="518.60" y1="372.50" x2="522.10" y2="372.50" stroke="#333" stroke-width="0.7" />
<line x1="518.60" y1="377.68" x2="520.40" y2="377.68" stroke="#333" stroke-width="0.7" />
<line x1="518.60" y1="382.86" x2="520.40" y2="382.86" stroke="#333" stroke-width="0.7" />
<line x1="518.60" y1="388.04" x2="520.40" y2="388.04" stroke="#333" stroke-width="0.7" />
<line x1="518.60" y1="393.22" x2="520.40" y2="393.22" stroke="#333" stroke-width="0.7" />
<line x1="518.60" y1="398.40" x2="522.10" y2="398.40" stroke="#333" stroke-width="0.7" />
<text transform="translate(528.40,294.80) rotate(90)" font-size="8.8" font-family="Liberation Sans" fill="#000" text-anchor="middle" >-20</text>
<text transform="translate(528.40,320.70) rotate(90)" font-size="8.8" font-family="Liberation Sans" fill="#000" text-anchor="middle" >-10</text>
<text transform="translate(528.40,346.60) rotate(90)" font-size="8.8" font-family="Liberation Sans" fill="#000" text-anchor="middle" >0</text>
<text transform="translate(528.40,372.50) rotate(90)" font-size="8.8" font-family="Liberation Sans" fill="#000" text-anchor="middle" >10</text>
<text transform="translate(528.40,398.40) rotate(90)" font-size="8.8" font-family="Liberation Sans" fill="#000" text-anchor="middle" >20</text>
<text transform="translate(540.60,346.60) rotate(90)" font-size="10.6" font-family="Liberation Sans" fill="#000" text-anchor="middle" textLength="18.00" lengthAdjust="spacingAndGlyphs" >mm</text>
<defs><linearGradient id="cbc" x1="0" y1="0" x2="1" y2="0"><stop offset="0.0000" stop-color="#80ffff"/><stop offset="0.1000" stop-color="#55b8ff"/><stop offset="0.2000" stop-color="#2a70ff"/><stop offset="0.3000" stop-color="#1030ff"/><stop offset="0.3467" stop-color="#2010f8"/><stop offset="0.4000" stop-color="#4a10d8"/><stop offset="0.5000" stop-color="#800a90"/><stop offset="0.5333" stop-color="#920878"/><stop offset="0.6000" stop-color="#b01050"/><stop offset="0.7000" stop-color="#e02010"/><stop offset="0.7667" stop-color="#ff4000"/><stop offset="0.8000" stop-color="#ff5500"/><stop offset="0.9000" stop-color="#ffa000"/><stop offset="1.0000" stop-color="#ffff00"/></linearGradient></defs>
<rect x="138.7" y="406.2" width="379.5" height="6.4" fill="url(#cbc)" stroke="#444" stroke-width="0.5"/>
<line x1="138.70" y1="406.20" x2="138.70" y2="415.60" stroke="#222" stroke-width="0.8" />
<text x="138.70" y="425.60" font-size="8.6" font-family="Liberation Sans" fill="#000" text-anchor="middle" >0.00</text>
<line x1="214.60" y1="412.60" x2="214.60" y2="415.60" stroke="#222" stroke-width="0.8" />
<text x="214.60" y="425.60" font-size="8.6" font-family="Liberation Sans" fill="#000" text-anchor="middle" >3.00</text>
<line x1="290.50" y1="412.60" x2="290.50" y2="415.60" stroke="#222" stroke-width="0.8" />
<text x="290.50" y="425.60" font-size="8.6" font-family="Liberation Sans" fill="#000" text-anchor="middle" >6.00</text>
<line x1="366.40" y1="412.60" x2="366.40" y2="415.60" stroke="#222" stroke-width="0.8" />
<text x="366.40" y="425.60" font-size="8.6" font-family="Liberation Sans" fill="#000" text-anchor="middle" >9.00</text>
<line x1="442.30" y1="412.60" x2="442.30" y2="415.60" stroke="#222" stroke-width="0.8" />
<text x="442.30" y="425.60" font-size="8.6" font-family="Liberation Sans" fill="#000" text-anchor="middle" >12.00</text>
<line x1="518.20" y1="406.20" x2="518.20" y2="415.60" stroke="#222" stroke-width="0.8" />
<text x="518.20" y="425.60" font-size="8.6" font-family="Liberation Sans" fill="#000" text-anchor="middle" >15.00</text>
<text x="328.60" y="442.10" font-size="9.8" font-family="Liberation Sans" fill="#000" text-anchor="middle" textLength="48.00" lengthAdjust="spacingAndGlyphs" >Dose (Gy)</text>
</svg>
</body></html>
